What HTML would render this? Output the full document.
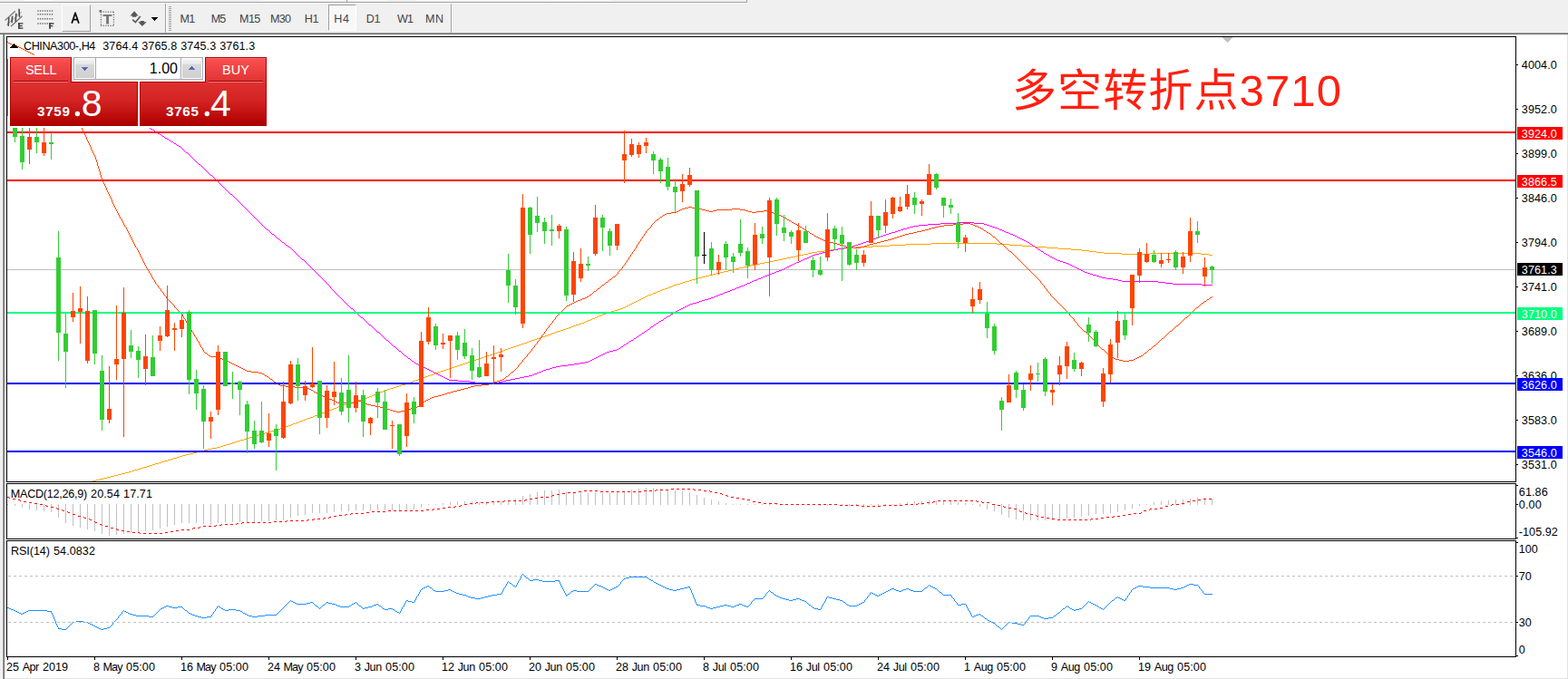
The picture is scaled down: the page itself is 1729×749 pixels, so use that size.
<!DOCTYPE html><html><head><meta charset="utf-8"><title>CHINA300 H4</title>
<style>
html,body{margin:0;padding:0;}
body{width:1729px;height:749px;overflow:hidden;background:#f0f0f0;position:relative;font-family:"Liberation Sans", sans-serif;}
.a{position:absolute;}
.t{position:absolute;white-space:pre;font-size:12.6px;line-height:14px;color:#000;margin-top:1px;}
svg{position:absolute;left:0;top:0;}
</style></head><body>
<div class="a" style="left:0;top:2px;width:824px;height:1px;background:#a0a0a0"></div>
<div class="a" style="left:0;top:3px;width:824px;height:1px;background:#fff"></div>
<div class="a" style="left:823px;top:0;width:1px;height:3px;background:#a0a0a0"></div>
<div class="a" style="left:382px;top:0;width:1px;height:2px;background:#a0a0a0"></div>
<div class="a" style="left:26px;top:0;width:32px;height:1px;background:#fff"></div>
<div class="a" style="left:285px;top:0;width:97px;height:1px;background:#f7f7f7"></div>
<div class="a" style="left:384px;top:0;width:42px;height:1px;background:#f9f9f9"></div>
<div class="a" style="left:458px;top:0;width:150px;height:1px;background:#f7f7f7"></div>
<div class="a" style="left:608px;top:0;width:33px;height:1px;background:#fff"></div>
<div class="a" style="left:641px;top:0;width:33px;height:1px;background:#f7f7f7"></div>
<div class="a" style="left:68px;top:5px;width:32px;height:30px;box-sizing:border-box;border-left:1px solid #fff;border-top:1px solid #fff;border-right:1px solid #a0a0a0;border-bottom:1px solid #a0a0a0"></div>
<div class="a" style="left:362px;top:5px;width:31px;height:29px;box-sizing:border-box;background:#f8f8f8;border-left:1px solid #a0a0a0;border-top:1px solid #a0a0a0;border-right:1px solid #fff;border-bottom:1px solid #fff"></div>
<div class="a" style="left:182px;top:4px;width:1px;height:32px;background:#a0a0a0"></div>
<div class="a" style="left:183px;top:4px;width:1px;height:32px;background:#fff"></div>
<div class="a" style="left:497px;top:4px;width:1px;height:32px;background:#a0a0a0"></div>
<div class="a" style="left:498px;top:4px;width:1px;height:32px;background:#fff"></div>
<div class="t" style="left:198.47px;top:13px;letter-spacing:-0.75px;color:#444;font-size:12.6px">M1</div>
<div class="t" style="left:232.67px;top:13px;letter-spacing:-0.84px;color:#444;font-size:12.6px">M5</div>
<div class="t" style="left:264.07px;top:13px;letter-spacing:-0.67px;color:#444;font-size:12.6px">M15</div>
<div class="t" style="left:298.07px;top:13px;letter-spacing:-0.79px;color:#444;font-size:12.6px">M30</div>
<div class="t" style="left:335.77px;top:13px;letter-spacing:-0.46px;color:#444;font-size:12.6px">H1</div>
<div class="t" style="left:368.27px;top:13px;letter-spacing:0.70px;color:#444;font-size:12.6px">H4</div>
<div class="t" style="left:403.87px;top:13px;letter-spacing:-0.46px;color:#444;font-size:12.6px">D1</div>
<div class="t" style="left:437.94px;top:13px;letter-spacing:-0.93px;color:#444;font-size:12.6px">W1</div>
<div class="t" style="left:469.07px;top:13px;letter-spacing:0.47px;color:#444;font-size:12.6px">MN</div>
<svg width="200" height="38" viewBox="0 0 200 38" style="left:0;top:0">
<g fill="none" stroke-linecap="round">
<path d="M5.8 22.2L16.5 12.5" stroke="#7c7c7c" stroke-width="1.15"/>
<path d="M12.4 28.8L24.2 18" stroke="#707070" stroke-width="1.2"/>
<path d="M7.4 27.2L23.6 13.4" stroke="#9a9a9a" stroke-width="0.9"/>
<path d="M9.8 19.8L9.2 28.2M13.6 18.4L13 24.6M17.8 15.4L17.2 23.2M21 10.2L21.4 18.2" stroke="#4c4c4c" stroke-width="1.6"/>
</g>
<g fill="#484848">
<rect x="20" y="25.2" width="1.9" height="6.6"/><rect x="20" y="25.2" width="5.4" height="1.4"/><rect x="20" y="27.9" width="4.8" height="1.3"/><rect x="20" y="30.4" width="5.4" height="1.4"/>
<rect x="54.1" y="25.2" width="1.9" height="6.6"/><rect x="54.1" y="25.2" width="5.3" height="1.5"/><rect x="54.1" y="28" width="4.4" height="1.3"/>
</g>
<g stroke="#666" stroke-width="1.5" stroke-dasharray="1.3 1.3" fill="none">
<path d="M41.3 12H58.6"/><path d="M41.3 15.8H58.6"/><path d="M41.3 20.8H58.6"/><path d="M41.3 26H53.6"/>
</g>
<path d="M79.2 25.7L83 14.2L86.9 25.7M80.6 21.7H85.5" fill="none" stroke="#0a0a0a" stroke-width="1.75" stroke-linejoin="round"/>
<!-- T icon -->
<g stroke="#606060" stroke-width="1.2" stroke-dasharray="1.1 1.53" fill="none">
<path d="M111 13.2H126"/><path d="M111 28.4H126"/><path d="M111.4 13.2V28.6"/><path d="M125.4 13.2V28.6"/>
</g>
<rect x="109.5" y="11" width="2.6" height="2.6" fill="#707070"/>
<rect x="113.5" y="16" width="10" height="1.9" fill="#787878"/><rect x="117.1" y="16" width="2.9" height="10.5" fill="#787878"/>
<!-- arrows icon -->
<path d="M148.1 12.3L152.6 17.4H150.3V18.7H145.9V17.4H143.5Z" fill="#585858"/>
<path d="M156.8 29.1L152.3 24.3H154.6V23H158.9V24.3H161.7Z" fill="#585858"/>
<path d="M146.2 21.7L149.3 24.5L154.8 17.9" fill="none" stroke="#585858" stroke-width="1.6"/>
<g shape-rendering="crispEdges" fill="#000">
<rect x="167" y="19" width="7" height="1"/><rect x="168" y="20" width="5" height="1"/><rect x="169" y="21" width="3" height="1"/><rect x="170" y="22" width="1" height="1"/>
</g>
<!-- gripper -->
<g shape-rendering="crispEdges" fill="#a0a0a0">
<rect x="186" y="7" width="3" height="1"/><rect x="186" y="9" width="3" height="1"/><rect x="186" y="11" width="3" height="1"/><rect x="186" y="13" width="3" height="1"/><rect x="186" y="15" width="3" height="1"/><rect x="186" y="17" width="3" height="1"/><rect x="186" y="19" width="3" height="1"/><rect x="186" y="21" width="3" height="1"/><rect x="186" y="23" width="3" height="1"/><rect x="186" y="25" width="3" height="1"/><rect x="186" y="27" width="3" height="1"/><rect x="186" y="29" width="3" height="1"/><rect x="186" y="31" width="3" height="1"/><rect x="186" y="33" width="3" height="1"/>
</g>
</svg>

<div class="a" style="left:0;top:36px;width:1729px;height:1px;background:#a0a0a0"></div>
<div class="a" style="left:0;top:37px;width:1729px;height:1px;background:#696969"></div>
<div class="a" style="left:3px;top:38px;width:1726px;height:711px;background:#a0a0a0"></div>
<div class="a" style="left:4px;top:37px;width:1725px;height:712px;background:#696969"></div>
<div class="a" style="left:5px;top:38px;width:1724px;height:711px;background:#e3e3e3"></div>
<div class="a" style="left:5px;top:38px;width:1723px;height:710px;background:#fff"></div>
<svg width="1729" height="749" viewBox="0 0 1729 749">
<g shape-rendering="crispEdges">
<clipPath id="c1"><rect x="8" y="41" width="1663" height="490"/></clipPath>
<clipPath id="c2"><rect x="8" y="534" width="1663" height="60"/></clipPath>
<clipPath id="c3"><rect x="8" y="597" width="1663" height="127"/></clipPath>
<rect x="8" y="297" width="1663" height="1" fill="#c0c0c0"/>
</g>
<g shape-rendering="crispEdges">
<path fill="#ffa500" d="M102 530h4v1h-4zM106 529h4v1h-4zM110 528h4v1h-4zM114 527h4v1h-4zM118 526h4v1h-4zM122 525h4v1h-4zM126 524h4v1h-4zM130 523h4v1h-4zM134 522h4v1h-4zM138 521h4v1h-4zM142 520h3v1h-3zM145 519h3v1h-3zM148 518h4v1h-4zM152 517h3v1h-3zM155 516h3v1h-3zM158 515h4v1h-4zM162 514h3v1h-3zM165 513h3v1h-3zM168 512h3v1h-3zM171 511h4v1h-4zM175 510h3v1h-3zM178 509h3v1h-3zM181 508h4v1h-4zM185 507h3v1h-3zM188 506h3v1h-3zM191 505h4v1h-4zM195 504h3v1h-3zM198 503h3v1h-3zM201 502h4v1h-4zM205 501h4v1h-4zM209 500h4v1h-4zM213 499h4v1h-4zM217 498h4v1h-4zM221 497h4v1h-4zM225 496h4v1h-4zM229 495h5v1h-5zM234 494h5v1h-5zM239 493h4v1h-4zM243 492h3v1h-3zM246 491h3v1h-3zM249 490h4v1h-4zM253 489h3v1h-3zM256 488h3v1h-3zM259 487h3v1h-3zM262 486h3v1h-3zM265 485h4v1h-4zM269 484h3v1h-3zM272 483h3v1h-3zM275 482h4v1h-4zM279 481h3v1h-3zM282 480h3v1h-3zM285 479h4v1h-4zM289 478h3v1h-3zM292 477h4v1h-4zM296 476h3v1h-3zM299 475h3v1h-3zM302 474h3v1h-3zM305 473h4v1h-4zM309 472h3v1h-3zM312 471h3v1h-3zM315 470h3v1h-3zM318 469h3v1h-3zM321 468h2v1h-2zM323 467h3v1h-3zM326 466h3v1h-3zM329 465h2v1h-2zM331 464h3v1h-3zM334 463h3v1h-3zM337 462h2v1h-2zM339 461h3v1h-3zM342 460h3v1h-3zM345 459h2v1h-2zM347 458h3v1h-3zM350 457h3v1h-3zM353 456h2v1h-2zM355 455h3v1h-3zM358 454h2v1h-2zM360 453h3v1h-3zM363 452h3v1h-3zM366 451h2v1h-2zM368 450h3v1h-3zM371 449h2v1h-2zM373 448h3v1h-3zM376 447h3v1h-3zM379 446h4v1h-4zM383 445h3v1h-3zM386 444h3v1h-3zM389 443h3v1h-3zM392 442h3v1h-3zM395 441h4v1h-4zM399 440h3v1h-3zM402 439h3v1h-3zM405 438h2v1h-2zM407 437h3v1h-3zM410 436h2v1h-2zM412 435h2v1h-2zM414 434h3v1h-3zM417 433h2v1h-2zM419 432h3v1h-3zM422 431h2v1h-2zM424 430h3v1h-3zM427 429h3v1h-3zM430 428h4v1h-4zM434 427h3v1h-3zM437 426h3v1h-3zM440 425h3v1h-3zM443 424h4v1h-4zM447 423h3v1h-3zM450 422h3v1h-3zM453 421h2v1h-2zM455 420h3v1h-3zM458 419h3v1h-3zM461 418h2v1h-2zM463 417h3v1h-3zM466 416h3v1h-3zM469 415h3v1h-3zM472 414h3v1h-3zM475 413h3v1h-3zM478 412h2v1h-2zM480 411h3v1h-3zM483 410h3v1h-3zM486 409h3v1h-3zM489 408h3v1h-3zM492 407h3v1h-3zM495 406h3v1h-3zM498 405h3v1h-3zM501 404h3v1h-3zM504 403h3v1h-3zM507 402h3v1h-3zM510 401h3v1h-3zM513 400h3v1h-3zM516 399h3v1h-3zM519 398h3v1h-3zM522 397h3v1h-3zM525 396h3v1h-3zM528 395h3v1h-3zM531 394h3v1h-3zM534 393h3v1h-3zM537 392h3v1h-3zM540 391h3v1h-3zM543 390h3v1h-3zM546 389h3v1h-3zM549 388h3v1h-3zM552 387h3v1h-3zM555 386h2v1h-2zM557 385h3v1h-3zM560 384h3v1h-3zM563 383h3v1h-3zM566 382h3v1h-3zM569 381h3v1h-3zM572 380h3v1h-3zM575 379h3v1h-3zM578 378h3v1h-3zM581 377h2v1h-2zM583 376h3v1h-3zM586 375h3v1h-3zM589 374h3v1h-3zM592 373h3v1h-3zM595 372h3v1h-3zM598 371h3v1h-3zM601 370h3v1h-3zM604 369h3v1h-3zM607 368h2v1h-2zM609 367h3v1h-3zM612 366h3v1h-3zM615 365h3v1h-3zM618 364h3v1h-3zM621 363h3v1h-3zM624 362h3v1h-3zM627 361h3v1h-3zM630 360h2v1h-2zM632 359h3v1h-3zM635 358h3v1h-3zM638 357h3v1h-3zM641 356h3v1h-3zM644 355h2v1h-2zM646 354h2v1h-2zM648 353h3v1h-3zM651 352h2v1h-2zM653 351h3v1h-3zM656 350h2v1h-2zM658 349h2v1h-2zM660 348h3v1h-3zM663 347h2v1h-2zM665 346h3v1h-3zM668 345h3v1h-3zM671 344h3v1h-3zM674 343h3v1h-3zM677 342h4v1h-4zM681 341h3v1h-3zM684 340h3v1h-3zM687 339h2v1h-2zM689 338h2v1h-2zM691 337h2v1h-2zM693 336h2v1h-2zM695 335h2v1h-2zM697 334h2v1h-2zM699 333h2v1h-2zM701 332h2v1h-2zM703 331h2v1h-2zM705 330h2v1h-2zM707 329h2v1h-2zM709 328h2v1h-2zM711 327h2v1h-2zM713 326h2v1h-2zM715 325h3v1h-3zM718 324h2v1h-2zM720 323h3v1h-3zM723 322h2v1h-2zM725 321h3v1h-3zM728 320h2v1h-2zM730 319h3v1h-3zM733 318h3v1h-3zM736 317h2v1h-2zM738 316h3v1h-3zM741 315h2v1h-2zM743 314h3v1h-3zM746 313h4v1h-4zM750 312h3v1h-3zM753 311h3v1h-3zM756 310h4v1h-4zM760 309h3v1h-3zM763 308h4v1h-4zM767 307h3v1h-3zM770 306h4v1h-4zM774 305h4v1h-4zM778 304h4v1h-4zM782 303h4v1h-4zM786 302h4v1h-4zM790 301h4v1h-4zM794 300h4v1h-4zM798 299h5v1h-5zM803 298h4v1h-4zM807 297h4v1h-4zM811 296h4v1h-4zM815 295h5v1h-5zM820 294h4v1h-4zM824 293h4v1h-4zM828 292h5v1h-5zM833 291h5v1h-5zM838 290h5v1h-5zM843 289h5v1h-5zM848 288h5v1h-5zM853 287h5v1h-5zM858 286h5v1h-5zM863 285h4v1h-4zM867 284h5v1h-5zM872 283h5v1h-5zM877 282h4v1h-4zM881 281h5v1h-5zM886 280h5v1h-5zM891 279h4v1h-4zM895 278h6v1h-6zM901 277h8v1h-8zM909 276h7v1h-7zM916 275h7v1h-7zM923 274h8v1h-8zM931 273h13v1h-13zM944 272h18v1h-18zM962 271h19v1h-19zM981 270h18v1h-18zM999 269h28v1h-28zM1027 268h72v1h-72zM1099 269h14v1h-14zM1113 270h14v1h-14zM1127 271h14v1h-14zM1141 272h13v1h-13zM1154 273h13v1h-13zM1167 274h14v1h-14zM1181 275h12v1h-12zM1193 276h8v1h-8zM1201 277h8v1h-8zM1209 278h8v1h-8zM1217 279h20v1h-20zM1237 280h31v1h-31zM1268 279h56v1h-56zM1324 280h9v1h-9zM1333 281h4v1h-4z"/>
<path fill="#ff00ff" d="M165 141h1v1h-1zM166 142h2v1h-2zM168 143h2v1h-2zM170 144h1v1h-1zM171 145h2v1h-2zM173 146h1v1h-1zM174 147h2v1h-2zM176 148h2v1h-2zM178 149h1v1h-1zM179 150h2v1h-2zM181 151h1v1h-1zM182 152h2v1h-2zM184 153h2v1h-2zM186 154h1v1h-1zM187 155h2v1h-2zM189 156h2v1h-2zM191 157h1v1h-1zM192 158h2v1h-2zM194 159h1v1h-1zM195 160h2v1h-2zM197 161h2v1h-2zM199 162h1v1h-1zM200 163h1v1h-1zM201 164h1v1h-1zM202 165h1v1h-1zM203 166h1v1h-1zM204 167h1v1h-1zM205 168h2v1h-2zM207 169h1v1h-1zM208 170h1v1h-1zM209 171h1v1h-1zM210 172h1v1h-1zM211 173h1v1h-1zM212 174h1v1h-1zM213 175h1v1h-1zM214 176h1v1h-1zM215 177h1v1h-1zM216 178h1v1h-1zM217 179h1v1h-1zM218 180h1v1h-1zM219 181h2v1h-2zM221 182h1v1h-1zM222 183h1v1h-1zM223 184h1v1h-1zM224 185h1v1h-1zM225 186h1v1h-1zM226 187h1v1h-1zM227 188h1v1h-1zM228 189h1v1h-1zM229 190h1v1h-1zM230 191h1v1h-1zM231 192h1v1h-1zM232 193h2v1h-2zM234 194h1v1h-1zM235 195h1v1h-1zM236 196h1v1h-1zM237 197h1v1h-1zM238 198h1v1h-1zM239 199h1v1h-1zM240 200h1v1h-1zM241 201h1v1h-1zM242 202h1v1h-1zM243 203h1v1h-1zM244 204h1v1h-1zM245 205h1v1h-1zM246 206h1v1h-1zM247 207h1v1h-1zM248 208h1v1h-1zM249 209h1v1h-1zM250 210h1v1h-1zM251 211h1v1h-1zM252 212h1v1h-1zM253 213h1v1h-1zM254 214h2v1h-2zM256 215h1v1h-1zM257 216h1v1h-1zM258 217h1v1h-1zM259 218h1v1h-1zM260 219h1v1h-1zM261 220h1v1h-1zM262 221h1v1h-1zM263 222h1v1h-1zM264 223h1v1h-1zM265 224h1v1h-1zM266 225h1v1h-1zM267 226h1v1h-1zM268 227h1v1h-1zM269 228h1v1h-1zM270 229h1v1h-1zM271 230h1v1h-1zM272 231h1v1h-1zM273 232h1v1h-1zM274 233h1v1h-1zM275 234h1v1h-1zM276 235h1v1h-1zM277 236h1v1h-1zM278 237h1v1h-1zM279 238h1v1h-1zM280 239h1v1h-1zM281 240h1v1h-1zM282 241h1v1h-1zM283 242h1v1h-1zM284 243h1v1h-1zM285 244h1v1h-1zM286 245h1v1h-1zM287 246h1v1h-1zM288 247h1v1h-1zM289 248h1v1h-1zM290 249h1v1h-1zM291 250h1v1h-1zM292 251h1v1h-1zM293 252h1v1h-1zM294 253h2v1h-2zM296 254h1v1h-1zM297 255h1v1h-1zM298 256h1v1h-1zM299 257h1v1h-1zM300 258h2v1h-2zM302 259h1v1h-1zM303 260h1v1h-1zM304 261h1v1h-1zM305 262h1v1h-1zM306 263h2v1h-2zM308 264h1v1h-1zM309 265h1v1h-1zM310 266h1v1h-1zM311 267h2v1h-2zM313 268h1v1h-1zM314 269h1v1h-1zM315 270h2v1h-2zM317 271h1v1h-1zM318 272h2v1h-2zM320 273h1v1h-1zM321 274h1v1h-1zM322 275h1v1h-1zM323 276h1v1h-1zM324 277h1v1h-1zM325 278h1v1h-1zM326 279h1v1h-1zM327 280h1v1h-1zM328 281h1v1h-1zM329 282h1v1h-1zM330 283h1v1h-1zM331 284h1v1h-1zM332 285h1v1h-1zM333 286h2v1h-2zM335 287h1v1h-1zM336 288h1v1h-1zM337 289h1v1h-1zM338 290h1v1h-1zM339 291h1v1h-1zM340 292h1v1h-1zM341 293h1v1h-1zM342 294h1v1h-1zM343 295h1v1h-1zM344 296h1v1h-1zM345 297h1v1h-1zM346 298h1v1h-1zM347 299h1v1h-1zM348 300h1v1h-1zM349 301h1v1h-1zM350 302h1v1h-1zM351 303h1v1h-1zM352 304h1v1h-1zM353 305h1v1h-1zM354 306h1v1h-1zM355 307h1v1h-1zM356 308h1v1h-1zM357 309h1v1h-1zM358 310h1v1h-1zM359 311h1v1h-1zM360 312h1v1h-1zM361 313h1v1h-1zM362 314h1v1h-1zM363 315h1v1h-1zM364 316h1v2h-1zM365 318h1v1h-1zM366 319h1v1h-1zM367 320h1v1h-1zM368 321h1v1h-1zM369 322h1v1h-1zM370 323h1v1h-1zM371 324h1v1h-1zM372 325h1v1h-1zM373 326h1v1h-1zM374 327h1v1h-1zM375 328h1v1h-1zM376 329h1v1h-1zM377 330h1v1h-1zM378 331h1v1h-1zM379 332h1v1h-1zM380 333h1v1h-1zM381 334h1v1h-1zM382 335h1v1h-1zM383 336h1v1h-1zM384 337h1v1h-1zM385 338h1v1h-1zM386 339h1v1h-1zM387 340h2v1h-2zM389 341h1v1h-1zM390 342h1v1h-1zM391 343h1v1h-1zM392 344h1v1h-1zM393 345h1v1h-1zM394 346h1v1h-1zM395 347h1v1h-1zM396 348h1v1h-1zM397 349h1v1h-1zM398 350h2v1h-2zM400 351h1v1h-1zM401 352h1v1h-1zM402 353h1v1h-1zM403 354h1v1h-1zM404 355h1v1h-1zM405 356h1v1h-1zM406 357h1v1h-1zM407 358h2v1h-2zM409 359h1v1h-1zM410 360h1v1h-1zM411 361h1v1h-1zM412 362h1v1h-1zM413 363h1v1h-1zM414 364h1v1h-1zM415 365h1v1h-1zM416 366h2v1h-2zM418 367h1v1h-1zM419 368h1v1h-1zM420 369h1v1h-1zM421 370h1v1h-1zM422 371h1v1h-1zM423 372h1v1h-1zM424 373h1v1h-1zM425 374h1v1h-1zM426 375h2v1h-2zM428 376h1v1h-1zM429 377h1v1h-1zM430 378h1v1h-1zM431 379h1v1h-1zM432 380h1v1h-1zM433 381h1v1h-1zM434 382h2v1h-2zM436 383h1v1h-1zM437 384h1v1h-1zM438 385h1v1h-1zM439 386h1v1h-1zM440 387h2v1h-2zM442 388h1v1h-1zM443 389h1v1h-1zM444 390h1v1h-1zM445 391h1v1h-1zM446 392h2v1h-2zM448 393h1v1h-1zM449 394h1v1h-1zM450 395h2v1h-2zM452 396h1v1h-1zM453 397h1v1h-1zM454 398h2v1h-2zM456 399h1v1h-1zM457 400h2v1h-2zM459 401h2v1h-2zM461 402h2v1h-2zM463 403h2v1h-2zM465 404h2v1h-2zM467 405h2v1h-2zM469 406h2v1h-2zM471 407h2v1h-2zM473 408h2v1h-2zM475 409h2v1h-2zM477 410h2v1h-2zM479 411h2v1h-2zM481 412h2v1h-2zM483 413h2v1h-2zM485 414h2v1h-2zM487 415h2v1h-2zM489 416h2v1h-2zM491 417h2v1h-2zM493 418h2v1h-2zM495 419h10v1h-10zM505 420h13v1h-13zM518 421h6v1h-6zM524 422h8v1h-8zM532 423h11v1h-11zM543 422h7v1h-7zM550 421h4v1h-4zM554 420h4v1h-4zM558 419h5v1h-5zM563 418h5v1h-5zM568 417h5v1h-5zM573 416h5v1h-5zM578 415h5v1h-5zM583 414h4v1h-4zM587 413h2v1h-2zM589 412h3v1h-3zM592 411h2v1h-2zM594 410h3v1h-3zM597 409h2v1h-2zM599 408h3v1h-3zM602 407h4v1h-4zM606 406h3v1h-3zM609 405h4v1h-4zM613 404h5v1h-5zM618 403h8v1h-8zM626 402h7v1h-7zM633 401h6v1h-6zM639 400h6v1h-6zM645 399h4v1h-4zM649 398h2v1h-2zM651 397h2v1h-2zM653 396h2v1h-2zM655 395h2v1h-2zM657 394h2v1h-2zM659 393h2v1h-2zM661 392h2v1h-2zM663 391h2v1h-2zM665 390h2v1h-2zM667 389h2v1h-2zM669 388h3v1h-3zM672 387h4v1h-4zM676 386h4v1h-4zM680 385h2v1h-2zM682 384h2v1h-2zM684 383h1v1h-1zM685 382h2v1h-2zM687 381h1v1h-1zM688 380h2v1h-2zM690 379h1v1h-1zM691 378h2v1h-2zM693 377h1v1h-1zM694 376h2v1h-2zM696 375h2v1h-2zM698 374h1v1h-1zM699 373h2v1h-2zM701 372h1v1h-1zM702 371h2v1h-2zM704 370h1v1h-1zM705 369h2v1h-2zM707 368h1v1h-1zM708 367h2v1h-2zM710 366h1v1h-1zM711 365h2v1h-2zM713 364h1v1h-1zM714 363h2v1h-2zM716 362h1v1h-1zM717 361h1v1h-1zM718 360h2v1h-2zM720 359h1v1h-1zM721 358h2v1h-2zM723 357h1v1h-1zM724 356h2v1h-2zM726 355h1v1h-1zM727 354h2v1h-2zM729 353h2v1h-2zM731 352h1v1h-1zM732 351h2v1h-2zM734 350h1v1h-1zM735 349h2v1h-2zM737 348h2v1h-2zM739 347h1v1h-1zM740 346h2v1h-2zM742 345h2v1h-2zM744 344h1v1h-1zM745 343h2v1h-2zM747 342h2v1h-2zM749 341h2v1h-2zM751 340h2v1h-2zM753 339h2v1h-2zM755 338h2v1h-2zM757 337h2v1h-2zM759 336h2v1h-2zM761 335h3v1h-3zM764 334h4v1h-4zM768 333h3v1h-3zM771 332h3v1h-3zM774 331h3v1h-3zM777 330h4v1h-4zM781 329h3v1h-3zM784 328h3v1h-3zM787 327h2v1h-2zM789 326h3v1h-3zM792 325h2v1h-2zM794 324h3v1h-3zM797 323h2v1h-2zM799 322h3v1h-3zM802 321h3v1h-3zM805 320h2v1h-2zM807 319h3v1h-3zM810 318h2v1h-2zM812 317h3v1h-3zM815 316h2v1h-2zM817 315h3v1h-3zM820 314h2v1h-2zM822 313h2v1h-2zM824 312h3v1h-3zM827 311h2v1h-2zM829 310h2v1h-2zM831 309h3v1h-3zM834 308h2v1h-2zM836 307h3v1h-3zM839 306h2v1h-2zM841 305h2v1h-2zM843 304h3v1h-3zM846 303h2v1h-2zM848 302h3v1h-3zM851 301h3v1h-3zM854 300h2v1h-2zM856 299h3v1h-3zM859 298h3v1h-3zM862 297h2v1h-2zM864 296h2v1h-2zM866 295h2v1h-2zM868 294h2v1h-2zM870 293h2v1h-2zM872 292h2v1h-2zM874 291h2v1h-2zM876 290h2v1h-2zM878 289h3v1h-3zM881 288h2v1h-2zM883 287h2v1h-2zM885 286h2v1h-2zM887 285h3v1h-3zM890 284h2v1h-2zM892 283h2v1h-2zM894 282h2v1h-2zM896 281h3v1h-3zM899 280h4v1h-4zM903 279h4v1h-4zM907 278h4v1h-4zM911 277h4v1h-4zM915 276h4v1h-4zM919 275h5v1h-5zM924 274h6v1h-6zM930 273h6v1h-6zM936 272h4v1h-4zM940 271h3v1h-3zM943 270h3v1h-3zM946 269h3v1h-3zM949 268h3v1h-3zM952 267h3v1h-3zM955 266h3v1h-3zM958 265h3v1h-3zM961 264h2v1h-2zM963 263h3v1h-3zM966 262h3v1h-3zM969 261h2v1h-2zM971 260h3v1h-3zM974 259h3v1h-3zM977 258h3v1h-3zM980 257h3v1h-3zM983 256h4v1h-4zM987 255h3v1h-3zM990 254h3v1h-3zM993 253h3v1h-3zM996 252h4v1h-4zM1000 251h3v1h-3zM1003 250h4v1h-4zM1007 249h6v1h-6zM1013 248h10v1h-10zM1023 247h14v1h-14zM1037 246h18v1h-18zM1055 245h19v1h-19zM1074 246h11v1h-11zM1085 247h3v1h-3zM1088 248h3v1h-3zM1091 249h3v1h-3zM1094 250h3v1h-3zM1097 251h3v1h-3zM1100 252h2v1h-2zM1102 253h3v1h-3zM1105 254h2v1h-2zM1107 255h2v1h-2zM1109 256h3v1h-3zM1112 257h2v1h-2zM1114 258h3v1h-3zM1117 259h2v1h-2zM1119 260h2v1h-2zM1121 261h2v1h-2zM1123 262h2v1h-2zM1125 263h2v1h-2zM1127 264h2v1h-2zM1129 265h2v1h-2zM1131 266h2v1h-2zM1133 267h2v1h-2zM1135 268h1v1h-1zM1136 269h2v1h-2zM1138 270h1v1h-1zM1139 271h2v1h-2zM1141 272h1v1h-1zM1142 273h2v1h-2zM1144 274h1v1h-1zM1145 275h2v1h-2zM1147 276h1v1h-1zM1148 277h2v1h-2zM1150 278h1v1h-1zM1151 279h2v1h-2zM1153 280h2v1h-2zM1155 281h2v1h-2zM1157 282h1v1h-1zM1158 283h2v1h-2zM1160 284h2v1h-2zM1162 285h2v1h-2zM1164 286h2v1h-2zM1166 287h3v1h-3zM1169 288h3v1h-3zM1172 289h3v1h-3zM1175 290h3v1h-3zM1178 291h2v1h-2zM1180 292h2v1h-2zM1182 293h2v1h-2zM1184 294h2v1h-2zM1186 295h2v1h-2zM1188 296h2v1h-2zM1190 297h2v1h-2zM1192 298h2v1h-2zM1194 299h2v1h-2zM1196 300h3v1h-3zM1199 301h3v1h-3zM1202 302h3v1h-3zM1205 303h4v1h-4zM1209 304h3v1h-3zM1212 305h3v1h-3zM1215 306h5v1h-5zM1220 307h7v1h-7zM1227 308h6v1h-6zM1233 309h4v1h-4zM1237 310h40v1h-40zM1277 311h8v1h-8zM1285 312h8v1h-8zM1293 313h32v1h-32zM1325 314h12v1h-12z"/>
<path fill="#ff4500" d="M8 46h1v1h-1zM9 47h2v1h-2zM11 48h2v1h-2zM13 49h3v1h-3zM16 50h3v1h-3zM19 51h2v1h-2zM21 52h2v1h-2zM23 53h2v1h-2zM25 54h2v1h-2zM27 55h2v1h-2zM29 56h2v1h-2zM31 57h2v1h-2zM33 58h2v1h-2zM35 59h2v1h-2zM37 60h1v1h-1zM38 61h1v1h-1zM39 62h1v1h-1zM40 63h1v1h-1zM41 64h1v1h-1zM42 65h1v1h-1zM43 66h1v2h-1zM44 68h1v1h-1zM45 69h1v1h-1zM46 70h1v1h-1zM47 71h1v1h-1zM48 72h1v1h-1zM49 73h1v1h-1zM50 74h1v1h-1zM51 75h1v1h-1zM52 76h1v1h-1zM53 77h1v1h-1zM54 78h1v2h-1zM55 80h1v1h-1zM56 81h1v1h-1zM57 82h1v1h-1zM58 83h1v1h-1zM59 84h1v1h-1zM60 85h1v1h-1zM61 86h1v2h-1zM62 88h1v2h-1zM63 90h1v2h-1zM64 92h1v1h-1zM65 93h1v2h-1zM66 95h1v2h-1zM67 97h1v2h-1zM68 99h1v1h-1zM69 100h1v2h-1zM70 102h1v2h-1zM71 104h1v2h-1zM72 106h1v1h-1zM73 107h1v2h-1zM74 109h1v2h-1zM75 111h1v2h-1zM76 113h1v1h-1zM77 114h1v2h-1zM78 116h1v2h-1zM79 118h1v2h-1zM80 120h1v2h-1zM81 122h1v2h-1zM82 124h1v2h-1zM83 126h1v2h-1zM84 128h1v2h-1zM85 130h1v2h-1zM86 132h1v2h-1zM87 134h1v2h-1zM88 136h1v2h-1zM89 138h1v2h-1zM90 140h1v3h-1zM91 143h1v2h-1zM92 145h1v2h-1zM93 147h1v2h-1zM94 149h1v2h-1zM95 151h1v3h-1zM96 154h1v2h-1zM97 156h1v2h-1zM98 158h1v2h-1zM99 160h1v2h-1zM100 162h1v3h-1zM101 165h1v2h-1zM102 167h1v2h-1zM103 169h1v2h-1zM104 171h1v2h-1zM105 173h1v3h-1zM106 176h1v3h-1zM107 179h1v4h-1zM108 183h1v3h-1zM109 186h1v3h-1zM110 189h1v4h-1zM111 193h1v3h-1zM112 196h1v3h-1zM113 199h1v2h-1zM114 201h1v2h-1zM115 203h1v2h-1zM116 205h1v2h-1zM117 207h1v3h-1zM118 210h1v2h-1zM119 212h1v2h-1zM120 214h1v2h-1zM121 216h1v2h-1zM122 218h1v2h-1zM123 220h1v3h-1zM124 223h1v2h-1zM125 225h1v2h-1zM126 227h1v2h-1zM127 229h1v2h-1zM128 231h1v2h-1zM129 233h1v2h-1zM130 235h1v2h-1zM131 237h1v2h-1zM132 239h1v2h-1zM133 241h1v1h-1zM134 242h1v2h-1zM135 244h1v2h-1zM136 246h1v2h-1zM137 248h1v2h-1zM138 250h1v1h-1zM139 251h1v2h-1zM140 253h1v2h-1zM141 255h1v2h-1zM142 257h1v2h-1zM143 259h1v2h-1zM144 261h1v2h-1zM145 263h1v2h-1zM146 265h1v2h-1zM147 267h1v2h-1zM148 269h1v2h-1zM149 271h1v2h-1zM150 273h1v1h-1zM151 274h1v2h-1zM152 276h1v2h-1zM153 278h1v2h-1zM154 280h1v2h-1zM155 282h1v2h-1zM156 284h1v2h-1zM157 286h1v2h-1zM158 288h1v2h-1zM159 290h1v2h-1zM160 292h1v2h-1zM161 294h1v2h-1zM162 296h1v1h-1zM163 297h1v2h-1zM164 299h1v2h-1zM165 301h1v1h-1zM166 302h1v2h-1zM167 304h1v2h-1zM168 306h1v2h-1zM169 308h1v1h-1zM170 309h1v2h-1zM171 311h1v2h-1zM172 313h1v1h-1zM173 314h1v1h-1zM174 315h1v2h-1zM175 317h1v1h-1zM176 318h1v1h-1zM177 319h1v2h-1zM178 321h1v1h-1zM179 322h1v1h-1zM180 323h1v2h-1zM181 325h1v1h-1zM182 326h1v1h-1zM183 327h1v2h-1zM184 329h1v1h-1zM185 330h1v1h-1zM186 331h1v1h-1zM187 332h1v1h-1zM188 333h1v1h-1zM189 334h1v1h-1zM190 335h1v1h-1zM191 336h1v1h-1zM192 337h1v2h-1zM193 339h1v1h-1zM194 340h1v1h-1zM195 341h1v1h-1zM196 342h1v1h-1zM197 343h1v1h-1zM198 344h1v1h-1zM199 345h1v1h-1zM200 346h1v1h-1zM201 347h1v2h-1zM202 349h1v2h-1zM203 351h1v1h-1zM204 352h1v2h-1zM205 354h1v2h-1zM206 356h1v1h-1zM207 357h1v2h-1zM208 359h1v2h-1zM209 361h1v1h-1zM210 362h1v2h-1zM211 364h1v2h-1zM212 366h1v1h-1zM213 367h1v2h-1zM214 369h1v2h-1zM215 371h1v1h-1zM216 372h1v2h-1zM217 374h1v2h-1zM218 376h1v1h-1zM219 377h1v2h-1zM220 379h1v2h-1zM221 381h1v2h-1zM222 383h1v1h-1zM223 384h1v2h-1zM224 386h1v2h-1zM225 388h1v1h-1zM226 389h2v1h-2zM228 390h1v1h-1zM229 391h1v1h-1zM230 392h2v1h-2zM232 393h8v1h-8zM240 394h2v1h-2zM242 395h3v1h-3zM245 396h3v1h-3zM248 397h2v1h-2zM250 398h2v1h-2zM252 399h2v1h-2zM254 400h2v1h-2zM256 401h2v1h-2zM258 402h2v1h-2zM260 403h2v1h-2zM262 404h2v1h-2zM264 405h2v1h-2zM266 406h2v1h-2zM268 407h2v1h-2zM270 408h2v1h-2zM272 409h5v1h-5zM277 410h8v1h-8zM285 411h4v1h-4zM289 412h2v1h-2zM291 413h1v1h-1zM292 414h2v1h-2zM294 415h2v1h-2zM296 416h1v1h-1zM297 417h1v1h-1zM298 418h2v1h-2zM300 419h1v1h-1zM301 420h1v1h-1zM302 421h2v1h-2zM304 422h1v1h-1zM305 423h2v1h-2zM307 424h2v1h-2zM309 425h6v1h-6zM315 426h10v1h-10zM325 427h10v1h-10zM335 428h6v1h-6zM341 429h2v1h-2zM343 430h2v1h-2zM345 431h1v1h-1zM346 432h2v1h-2zM348 433h2v1h-2zM350 434h2v1h-2zM352 435h2v1h-2zM354 436h2v1h-2zM356 437h3v1h-3zM359 438h2v1h-2zM361 439h2v1h-2zM363 440h3v1h-3zM366 441h2v1h-2zM368 442h2v1h-2zM370 443h2v1h-2zM372 444h19v1h-19zM391 443h4v1h-4zM395 442h4v1h-4zM399 443h2v1h-2zM401 444h2v1h-2zM403 445h2v1h-2zM405 446h4v1h-4zM409 447h5v1h-5zM414 448h5v1h-5zM419 449h4v1h-4zM423 450h4v1h-4zM427 451h3v1h-3zM430 452h3v1h-3zM433 453h4v1h-4zM437 454h5v1h-5zM442 453h6v1h-6zM448 452h2v1h-2zM450 451h3v1h-3zM453 450h3v1h-3zM456 449h4v1h-4zM460 448h2v1h-2zM462 447h1v1h-1zM463 446h1v1h-1zM464 445h2v1h-2zM466 444h1v1h-1zM467 443h1v1h-1zM468 442h2v1h-2zM470 441h2v1h-2zM472 440h2v1h-2zM474 439h2v1h-2zM476 438h3v1h-3zM479 437h4v1h-4zM483 436h4v1h-4zM487 435h3v1h-3zM490 434h3v1h-3zM493 433h4v1h-4zM497 432h3v1h-3zM500 431h4v1h-4zM504 430h4v1h-4zM508 429h4v1h-4zM512 428h4v1h-4zM516 427h3v1h-3zM519 426h4v1h-4zM523 425h8v1h-8zM531 424h8v1h-8zM539 423h3v1h-3zM542 422h3v1h-3zM545 421h3v1h-3zM548 420h3v1h-3zM551 419h3v1h-3zM554 418h2v1h-2zM556 417h1v1h-1zM557 416h1v1h-1zM558 415h2v1h-2zM560 414h1v1h-1zM561 413h1v1h-1zM562 412h1v1h-1zM563 411h1v1h-1zM564 410h2v1h-2zM566 409h1v1h-1zM567 408h1v1h-1zM568 407h1v1h-1zM569 406h1v1h-1zM570 405h1v1h-1zM571 403h1v2h-1zM572 402h1v1h-1zM573 401h1v1h-1zM574 400h1v1h-1zM575 399h1v1h-1zM576 397h1v2h-1zM577 396h1v1h-1zM578 395h1v1h-1zM579 394h1v1h-1zM580 393h1v1h-1zM581 391h1v2h-1zM582 390h1v1h-1zM583 389h1v1h-1zM584 388h1v1h-1zM585 387h1v1h-1zM586 385h1v2h-1zM587 384h1v1h-1zM588 383h1v1h-1zM589 381h1v2h-1zM590 380h1v1h-1zM591 379h1v1h-1zM592 377h1v2h-1zM593 376h1v1h-1zM594 375h1v1h-1zM595 373h1v2h-1zM596 372h1v1h-1zM597 370h1v2h-1zM598 369h1v1h-1zM599 368h1v1h-1zM600 366h1v2h-1zM601 365h1v1h-1zM602 363h1v2h-1zM603 362h1v1h-1zM604 361h1v1h-1zM605 359h1v2h-1zM606 358h1v1h-1zM607 357h1v1h-1zM608 356h1v1h-1zM609 354h1v2h-1zM610 353h1v1h-1zM611 352h1v1h-1zM612 350h1v2h-1zM613 349h1v1h-1zM614 348h1v1h-1zM615 347h1v1h-1zM616 346h1v1h-1zM617 345h1v1h-1zM618 344h1v1h-1zM619 343h1v1h-1zM620 342h1v1h-1zM621 341h1v1h-1zM622 340h1v1h-1zM623 339h1v1h-1zM624 338h1v1h-1zM625 337h2v1h-2zM627 336h2v1h-2zM629 335h2v1h-2zM631 334h2v1h-2zM633 333h2v1h-2zM635 332h2v1h-2zM637 331h3v1h-3zM640 330h2v1h-2zM642 329h3v1h-3zM645 328h2v1h-2zM647 327h2v1h-2zM649 326h1v1h-1zM650 325h2v1h-2zM652 324h1v1h-1zM653 323h1v1h-1zM654 322h1v1h-1zM655 321h2v1h-2zM657 320h1v1h-1zM658 319h1v1h-1zM659 318h2v1h-2zM661 317h1v1h-1zM662 316h1v1h-1zM663 315h1v1h-1zM664 314h2v1h-2zM666 313h1v1h-1zM667 312h1v1h-1zM668 311h2v1h-2zM670 310h1v1h-1zM671 309h1v1h-1zM672 308h2v1h-2zM674 307h1v1h-1zM675 306h1v1h-1zM676 305h2v1h-2zM678 304h1v1h-1zM679 303h1v1h-1zM680 302h1v1h-1zM681 300h1v2h-1zM682 299h1v1h-1zM683 298h1v1h-1zM684 297h1v1h-1zM685 296h1v1h-1zM686 294h1v2h-1zM687 293h1v1h-1zM688 292h1v1h-1zM689 290h1v2h-1zM690 289h1v1h-1zM691 287h1v2h-1zM692 286h1v1h-1zM693 284h1v2h-1zM694 283h1v1h-1zM695 281h1v2h-1zM696 280h1v1h-1zM697 278h1v2h-1zM698 277h1v1h-1zM699 275h1v2h-1zM700 274h1v1h-1zM701 272h1v2h-1zM702 270h1v2h-1zM703 269h1v1h-1zM704 267h1v2h-1zM705 266h1v1h-1zM706 264h1v2h-1zM707 263h1v1h-1zM708 261h1v2h-1zM709 260h1v1h-1zM710 258h1v2h-1zM711 257h1v1h-1zM712 255h1v2h-1zM713 254h1v1h-1zM714 253h1v1h-1zM715 252h1v1h-1zM716 251h1v1h-1zM717 250h1v1h-1zM718 248h1v2h-1zM719 247h1v1h-1zM720 246h1v1h-1zM721 245h1v1h-1zM722 244h1v1h-1zM723 243h1v1h-1zM724 242h2v1h-2zM726 241h1v1h-1zM727 240h1v1h-1zM728 239h2v1h-2zM730 238h1v1h-1zM731 237h2v1h-2zM733 236h2v1h-2zM735 235h5v1h-5zM740 234h6v1h-6zM746 233h2v1h-2zM748 232h2v1h-2zM750 231h2v1h-2zM752 230h3v1h-3zM755 229h4v1h-4zM759 228h4v1h-4zM763 229h6v1h-6zM769 230h5v1h-5zM774 231h4v1h-4zM778 232h4v1h-4zM782 233h4v1h-4zM786 232h4v1h-4zM790 231h17v1h-17zM807 230h9v1h-9zM816 231h6v1h-6zM822 232h3v1h-3zM825 233h4v1h-4zM829 234h5v1h-5zM834 233h8v1h-8zM842 232h6v1h-6zM848 233h3v1h-3zM851 234h2v1h-2zM853 235h3v1h-3zM856 236h3v1h-3zM859 237h2v1h-2zM861 238h2v1h-2zM863 239h2v1h-2zM865 240h2v1h-2zM867 241h1v1h-1zM868 242h2v1h-2zM870 243h2v1h-2zM872 244h1v1h-1zM873 245h2v1h-2zM875 246h2v1h-2zM877 247h2v1h-2zM879 248h1v1h-1zM880 249h2v1h-2zM882 250h2v1h-2zM884 251h1v1h-1zM885 252h2v1h-2zM887 253h1v1h-1zM888 254h2v1h-2zM890 255h2v1h-2zM892 256h1v1h-1zM893 257h2v1h-2zM895 258h2v1h-2zM897 259h1v1h-1zM898 260h2v1h-2zM900 261h2v1h-2zM902 262h2v1h-2zM904 263h2v1h-2zM906 264h2v1h-2zM908 265h3v1h-3zM911 266h4v1h-4zM915 267h4v1h-4zM919 268h4v1h-4zM923 269h3v1h-3zM926 270h4v1h-4zM930 271h3v1h-3zM933 272h8v1h-8zM941 273h8v1h-8zM949 272h4v1h-4zM953 271h3v1h-3zM956 270h3v1h-3zM959 269h4v1h-4zM963 268h4v1h-4zM967 267h4v1h-4zM971 266h4v1h-4zM975 265h4v1h-4zM979 264h4v1h-4zM983 263h3v1h-3zM986 262h3v1h-3zM989 261h3v1h-3zM992 260h3v1h-3zM995 259h3v1h-3zM998 258h4v1h-4zM1002 257h5v1h-5zM1007 256h4v1h-4zM1011 255h5v1h-5zM1016 254h4v1h-4zM1020 253h4v1h-4zM1024 252h3v1h-3zM1027 251h4v1h-4zM1031 250h4v1h-4zM1035 249h6v1h-6zM1041 248h10v1h-10zM1051 247h11v1h-11zM1062 246h8v1h-8zM1070 247h3v1h-3zM1073 248h2v1h-2zM1075 249h3v1h-3zM1078 250h2v1h-2zM1080 251h2v1h-2zM1082 252h2v1h-2zM1084 253h1v1h-1zM1085 254h2v1h-2zM1087 255h1v1h-1zM1088 256h2v1h-2zM1090 257h2v1h-2zM1092 258h1v1h-1zM1093 259h1v1h-1zM1094 260h1v1h-1zM1095 261h2v1h-2zM1097 262h1v1h-1zM1098 263h1v1h-1zM1099 264h1v1h-1zM1100 265h1v1h-1zM1101 266h1v1h-1zM1102 267h1v1h-1zM1103 268h2v1h-2zM1105 269h1v1h-1zM1106 270h1v1h-1zM1107 271h1v1h-1zM1108 272h1v1h-1zM1109 273h1v1h-1zM1110 274h1v1h-1zM1111 275h1v1h-1zM1112 276h1v1h-1zM1113 277h2v1h-2zM1115 278h1v1h-1zM1116 279h1v1h-1zM1117 280h1v1h-1zM1118 281h1v1h-1zM1119 282h1v1h-1zM1120 283h1v1h-1zM1121 284h1v1h-1zM1122 285h1v1h-1zM1123 286h1v1h-1zM1124 287h1v1h-1zM1125 288h1v1h-1zM1126 289h1v1h-1zM1127 290h1v1h-1zM1128 291h1v1h-1zM1129 292h1v1h-1zM1130 293h1v1h-1zM1131 294h1v1h-1zM1132 295h1v1h-1zM1133 296h1v1h-1zM1134 297h1v1h-1zM1135 298h1v1h-1zM1136 299h1v1h-1zM1137 300h1v1h-1zM1138 301h1v1h-1zM1139 302h1v1h-1zM1140 303h1v1h-1zM1141 304h1v1h-1zM1142 305h1v1h-1zM1143 306h1v1h-1zM1144 307h1v1h-1zM1145 308h1v1h-1zM1146 309h1v1h-1zM1147 310h1v2h-1zM1148 312h1v1h-1zM1149 313h1v1h-1zM1150 314h1v1h-1zM1151 315h1v2h-1zM1152 317h1v1h-1zM1153 318h1v1h-1zM1154 319h1v2h-1zM1155 321h1v1h-1zM1156 322h1v1h-1zM1157 323h1v1h-1zM1158 324h1v2h-1zM1159 326h1v1h-1zM1160 327h1v1h-1zM1161 328h1v1h-1zM1162 329h1v1h-1zM1163 330h1v1h-1zM1164 331h1v1h-1zM1165 332h1v1h-1zM1166 333h1v1h-1zM1167 334h1v1h-1zM1168 335h1v1h-1zM1169 336h1v1h-1zM1170 337h1v1h-1zM1171 338h1v1h-1zM1172 339h1v1h-1zM1173 340h1v1h-1zM1174 341h1v1h-1zM1175 342h1v1h-1zM1176 343h1v1h-1zM1177 344h1v1h-1zM1178 345h1v1h-1zM1179 346h1v2h-1zM1180 348h1v1h-1zM1181 349h1v1h-1zM1182 350h1v1h-1zM1183 351h1v1h-1zM1184 352h1v2h-1zM1185 354h1v1h-1zM1186 355h1v1h-1zM1187 356h1v1h-1zM1188 357h1v2h-1zM1189 359h1v1h-1zM1190 360h1v1h-1zM1191 361h1v1h-1zM1192 362h1v1h-1zM1193 363h1v1h-1zM1194 364h1v1h-1zM1195 365h2v1h-2zM1197 366h1v1h-1zM1198 367h1v1h-1zM1199 368h1v1h-1zM1200 369h1v1h-1zM1201 370h1v1h-1zM1202 371h1v1h-1zM1203 372h1v1h-1zM1204 373h1v1h-1zM1205 374h1v1h-1zM1206 375h1v2h-1zM1207 377h1v1h-1zM1208 378h1v1h-1zM1209 379h1v1h-1zM1210 380h1v1h-1zM1211 381h1v1h-1zM1212 382h1v1h-1zM1213 383h1v1h-1zM1214 384h1v1h-1zM1215 385h2v1h-2zM1217 386h1v1h-1zM1218 387h1v1h-1zM1219 388h1v1h-1zM1220 389h1v1h-1zM1221 390h1v1h-1zM1222 391h2v1h-2zM1224 392h1v1h-1zM1225 393h1v1h-1zM1226 394h2v1h-2zM1228 395h2v1h-2zM1230 396h4v1h-4zM1234 397h4v1h-4zM1238 398h7v1h-7zM1245 397h5v1h-5zM1250 396h2v1h-2zM1252 395h2v1h-2zM1254 394h2v1h-2zM1256 393h2v1h-2zM1258 392h2v1h-2zM1260 391h1v1h-1zM1261 390h1v1h-1zM1262 389h2v1h-2zM1264 388h1v1h-1zM1265 387h1v1h-1zM1266 386h1v1h-1zM1267 385h2v1h-2zM1269 384h1v1h-1zM1270 383h1v1h-1zM1271 382h1v1h-1zM1272 381h2v1h-2zM1274 380h1v1h-1zM1275 379h1v1h-1zM1276 378h1v1h-1zM1277 377h1v1h-1zM1278 376h1v1h-1zM1279 375h1v1h-1zM1280 374h1v1h-1zM1281 373h2v1h-2zM1283 372h1v1h-1zM1284 371h1v1h-1zM1285 370h1v1h-1zM1286 369h1v1h-1zM1287 368h1v1h-1zM1288 367h1v1h-1zM1289 366h1v1h-1zM1290 365h2v1h-2zM1292 364h1v1h-1zM1293 363h1v1h-1zM1294 362h1v1h-1zM1295 361h1v1h-1zM1296 360h1v1h-1zM1297 359h2v1h-2zM1299 358h1v1h-1zM1300 357h1v1h-1zM1301 356h1v1h-1zM1302 355h1v1h-1zM1303 354h1v1h-1zM1304 353h1v1h-1zM1305 352h1v1h-1zM1306 351h1v1h-1zM1307 350h2v1h-2zM1309 349h1v1h-1zM1310 348h1v1h-1zM1311 347h1v1h-1zM1312 346h1v1h-1zM1313 345h1v1h-1zM1314 344h1v1h-1zM1315 343h1v1h-1zM1316 342h1v1h-1zM1317 341h1v1h-1zM1318 340h1v1h-1zM1319 339h2v1h-2zM1321 338h1v1h-1zM1322 337h1v1h-1zM1323 336h1v1h-1zM1324 335h1v1h-1zM1325 334h2v1h-2zM1327 333h1v1h-1zM1328 332h2v1h-2zM1330 331h1v1h-1zM1331 330h2v1h-2zM1333 329h1v1h-1zM1334 328h2v1h-2zM1336 327h1v1h-1z"/>
</g>
<g shape-rendering="crispEdges">
<rect x="8" y="145" width="1663" height="2" fill="#ff0000"/>
<rect x="8" y="198" width="1663" height="2" fill="#ff0000"/>
<rect x="8" y="344" width="1663" height="2" fill="#00ff7f"/>
<rect x="8" y="422" width="1663" height="2" fill="#0000ff"/>
<rect x="8" y="497" width="1663" height="2" fill="#0000ff"/>
</g>
<g shape-rendering="crispEdges" clip-path="url(#c1)">
<rect x="8" y="65" width="1" height="63" fill="#32cd32"/>
<rect x="16" y="135" width="1" height="22" fill="#32cd32"/>
<rect x="14" y="141" width="5" height="10" fill="#32cd32"/>
<rect x="24" y="135" width="1" height="52" fill="#32cd32"/>
<rect x="22" y="150" width="5" height="29" fill="#32cd32"/>
<rect x="32" y="135" width="1" height="46" fill="#ff4500"/>
<rect x="30" y="151" width="5" height="14" fill="#ff4500"/>
<rect x="40" y="135" width="1" height="34" fill="#32cd32"/>
<rect x="38" y="151" width="5" height="6" fill="#32cd32"/>
<rect x="48" y="136" width="1" height="36" fill="#ff4500"/>
<rect x="46" y="157" width="5" height="12" fill="#ff4500"/>
<rect x="56" y="146" width="1" height="30" fill="#32cd32"/>
<rect x="54" y="157" width="5" height="2" fill="#32cd32"/>
<rect x="64" y="255" width="1" height="143" fill="#32cd32"/>
<rect x="62" y="284" width="5" height="83" fill="#32cd32"/>
<rect x="72" y="346" width="1" height="82" fill="#32cd32"/>
<rect x="70" y="368" width="5" height="20" fill="#32cd32"/>
<rect x="80" y="323" width="1" height="32" fill="#ff4500"/>
<rect x="78" y="343" width="5" height="7" fill="#ff4500"/>
<rect x="88" y="316" width="1" height="63" fill="#ff4500"/>
<rect x="86" y="340" width="5" height="4" fill="#ff4500"/>
<rect x="96" y="327" width="1" height="74" fill="#ff4500"/>
<rect x="94" y="343" width="5" height="55" fill="#ff4500"/>
<rect x="104" y="342" width="1" height="60" fill="#32cd32"/>
<rect x="102" y="342" width="5" height="48" fill="#32cd32"/>
<rect x="112" y="392" width="1" height="83" fill="#32cd32"/>
<rect x="110" y="409" width="5" height="54" fill="#32cd32"/>
<rect x="120" y="404" width="1" height="63" fill="#ff4500"/>
<rect x="118" y="451" width="5" height="12" fill="#ff4500"/>
<rect x="128" y="337" width="1" height="82" fill="#ff4500"/>
<rect x="126" y="396" width="5" height="6" fill="#ff4500"/>
<rect x="136" y="317" width="1" height="165" fill="#ff4500"/>
<rect x="134" y="345" width="5" height="51" fill="#ff4500"/>
<rect x="144" y="364" width="1" height="31" fill="#32cd32"/>
<rect x="142" y="381" width="5" height="7" fill="#32cd32"/>
<rect x="152" y="382" width="1" height="35" fill="#32cd32"/>
<rect x="150" y="387" width="5" height="10" fill="#32cd32"/>
<rect x="160" y="369" width="1" height="56" fill="#ff4500"/>
<rect x="158" y="393" width="5" height="14" fill="#ff4500"/>
<rect x="168" y="370" width="1" height="45" fill="#32cd32"/>
<rect x="166" y="394" width="5" height="21" fill="#32cd32"/>
<rect x="176" y="360" width="1" height="27" fill="#ff4500"/>
<rect x="174" y="370" width="5" height="6" fill="#ff4500"/>
<rect x="184" y="315" width="1" height="57" fill="#ff4500"/>
<rect x="182" y="342" width="5" height="29" fill="#ff4500"/>
<rect x="192" y="356" width="1" height="31" fill="#ff4500"/>
<rect x="190" y="362" width="5" height="2" fill="#ff4500"/>
<rect x="200" y="346" width="1" height="26" fill="#ff4500"/>
<rect x="198" y="353" width="5" height="10" fill="#ff4500"/>
<rect x="208" y="342" width="1" height="93" fill="#32cd32"/>
<rect x="206" y="344" width="5" height="75" fill="#32cd32"/>
<rect x="216" y="408" width="1" height="44" fill="#32cd32"/>
<rect x="214" y="418" width="5" height="16" fill="#32cd32"/>
<rect x="224" y="425" width="1" height="70" fill="#32cd32"/>
<rect x="222" y="429" width="5" height="36" fill="#32cd32"/>
<rect x="232" y="454" width="1" height="30" fill="#ff4500"/>
<rect x="230" y="460" width="5" height="5" fill="#ff4500"/>
<rect x="240" y="381" width="1" height="77" fill="#ff4500"/>
<rect x="238" y="388" width="5" height="64" fill="#ff4500"/>
<rect x="248" y="388" width="1" height="38" fill="#32cd32"/>
<rect x="246" y="388" width="5" height="38" fill="#32cd32"/>
<rect x="256" y="410" width="1" height="30" fill="#32cd32"/>
<rect x="254" y="422" width="5" height="2" fill="#32cd32"/>
<rect x="264" y="420" width="1" height="38" fill="#32cd32"/>
<rect x="262" y="421" width="5" height="9" fill="#32cd32"/>
<rect x="272" y="442" width="1" height="58" fill="#32cd32"/>
<rect x="270" y="446" width="5" height="30" fill="#32cd32"/>
<rect x="280" y="464" width="1" height="31" fill="#32cd32"/>
<rect x="278" y="475" width="5" height="15" fill="#32cd32"/>
<rect x="288" y="443" width="1" height="46" fill="#32cd32"/>
<rect x="286" y="475" width="5" height="13" fill="#32cd32"/>
<rect x="296" y="456" width="1" height="37" fill="#ff4500"/>
<rect x="294" y="478" width="5" height="8" fill="#ff4500"/>
<rect x="304" y="468" width="1" height="51" fill="#32cd32"/>
<rect x="302" y="473" width="5" height="8" fill="#32cd32"/>
<rect x="312" y="421" width="1" height="63" fill="#ff4500"/>
<rect x="310" y="443" width="5" height="40" fill="#ff4500"/>
<rect x="320" y="398" width="1" height="48" fill="#ff4500"/>
<rect x="318" y="402" width="5" height="43" fill="#ff4500"/>
<rect x="328" y="395" width="1" height="47" fill="#32cd32"/>
<rect x="326" y="402" width="5" height="24" fill="#32cd32"/>
<rect x="336" y="420" width="1" height="22" fill="#ff4500"/>
<rect x="334" y="426" width="5" height="10" fill="#ff4500"/>
<rect x="344" y="383" width="1" height="45" fill="#ff4500"/>
<rect x="342" y="423" width="5" height="4" fill="#ff4500"/>
<rect x="352" y="420" width="1" height="59" fill="#32cd32"/>
<rect x="350" y="420" width="5" height="41" fill="#32cd32"/>
<rect x="360" y="425" width="1" height="47" fill="#ff4500"/>
<rect x="358" y="431" width="5" height="30" fill="#ff4500"/>
<rect x="368" y="399" width="1" height="48" fill="#ff4500"/>
<rect x="366" y="432" width="5" height="6" fill="#ff4500"/>
<rect x="376" y="417" width="1" height="41" fill="#32cd32"/>
<rect x="374" y="433" width="5" height="21" fill="#32cd32"/>
<rect x="384" y="392" width="1" height="74" fill="#32cd32"/>
<rect x="382" y="430" width="5" height="20" fill="#32cd32"/>
<rect x="392" y="421" width="1" height="34" fill="#ff4500"/>
<rect x="390" y="436" width="5" height="14" fill="#ff4500"/>
<rect x="400" y="430" width="1" height="52" fill="#32cd32"/>
<rect x="398" y="436" width="5" height="29" fill="#32cd32"/>
<rect x="408" y="460" width="1" height="20" fill="#ff4500"/>
<rect x="406" y="461" width="5" height="6" fill="#ff4500"/>
<rect x="416" y="428" width="1" height="33" fill="#32cd32"/>
<rect x="414" y="432" width="5" height="12" fill="#32cd32"/>
<rect x="424" y="430" width="1" height="44" fill="#32cd32"/>
<rect x="422" y="443" width="5" height="31" fill="#32cd32"/>
<rect x="432" y="464" width="1" height="31" fill="#ff4500"/>
<rect x="430" y="469" width="5" height="1" fill="#ff4500"/>
<rect x="440" y="468" width="1" height="35" fill="#32cd32"/>
<rect x="438" y="468" width="5" height="33" fill="#32cd32"/>
<rect x="448" y="434" width="1" height="59" fill="#ff4500"/>
<rect x="446" y="444" width="5" height="37" fill="#ff4500"/>
<rect x="456" y="438" width="1" height="29" fill="#32cd32"/>
<rect x="454" y="443" width="5" height="14" fill="#32cd32"/>
<rect x="464" y="366" width="1" height="83" fill="#ff4500"/>
<rect x="462" y="376" width="5" height="73" fill="#ff4500"/>
<rect x="472" y="339" width="1" height="41" fill="#ff4500"/>
<rect x="470" y="350" width="5" height="27" fill="#ff4500"/>
<rect x="480" y="357" width="1" height="29" fill="#32cd32"/>
<rect x="478" y="360" width="5" height="21" fill="#32cd32"/>
<rect x="488" y="368" width="1" height="17" fill="#ff4500"/>
<rect x="486" y="378" width="5" height="2" fill="#ff4500"/>
<rect x="496" y="370" width="1" height="47" fill="#ff4500"/>
<rect x="494" y="370" width="5" height="6" fill="#ff4500"/>
<rect x="504" y="366" width="1" height="31" fill="#32cd32"/>
<rect x="502" y="370" width="5" height="16" fill="#32cd32"/>
<rect x="512" y="363" width="1" height="33" fill="#32cd32"/>
<rect x="510" y="378" width="5" height="15" fill="#32cd32"/>
<rect x="520" y="384" width="1" height="35" fill="#32cd32"/>
<rect x="518" y="392" width="5" height="17" fill="#32cd32"/>
<rect x="528" y="375" width="1" height="42" fill="#32cd32"/>
<rect x="526" y="405" width="5" height="11" fill="#32cd32"/>
<rect x="536" y="388" width="1" height="27" fill="#ff4500"/>
<rect x="534" y="401" width="5" height="14" fill="#ff4500"/>
<rect x="544" y="381" width="1" height="43" fill="#ff4500"/>
<rect x="542" y="394" width="5" height="2" fill="#ff4500"/>
<rect x="552" y="384" width="1" height="26" fill="#ff4500"/>
<rect x="550" y="391" width="5" height="3" fill="#ff4500"/>
<rect x="560" y="280" width="1" height="54" fill="#32cd32"/>
<rect x="558" y="298" width="5" height="17" fill="#32cd32"/>
<rect x="568" y="308" width="1" height="39" fill="#32cd32"/>
<rect x="566" y="315" width="5" height="24" fill="#32cd32"/>
<rect x="576" y="214" width="1" height="148" fill="#ff4500"/>
<rect x="574" y="229" width="5" height="128" fill="#ff4500"/>
<rect x="584" y="228" width="1" height="52" fill="#32cd32"/>
<rect x="582" y="229" width="5" height="30" fill="#32cd32"/>
<rect x="592" y="217" width="1" height="39" fill="#32cd32"/>
<rect x="590" y="238" width="5" height="8" fill="#32cd32"/>
<rect x="600" y="240" width="1" height="29" fill="#32cd32"/>
<rect x="598" y="245" width="5" height="10" fill="#32cd32"/>
<rect x="608" y="237" width="1" height="34" fill="#32cd32"/>
<rect x="606" y="253" width="5" height="2" fill="#32cd32"/>
<rect x="616" y="247" width="1" height="16" fill="#ff4500"/>
<rect x="614" y="249" width="5" height="6" fill="#ff4500"/>
<rect x="624" y="250" width="1" height="82" fill="#32cd32"/>
<rect x="622" y="253" width="5" height="73" fill="#32cd32"/>
<rect x="632" y="278" width="1" height="55" fill="#ff4500"/>
<rect x="630" y="288" width="5" height="37" fill="#ff4500"/>
<rect x="640" y="274" width="1" height="37" fill="#ff4500"/>
<rect x="638" y="291" width="5" height="16" fill="#ff4500"/>
<rect x="648" y="283" width="1" height="16" fill="#32cd32"/>
<rect x="646" y="291" width="5" height="2" fill="#32cd32"/>
<rect x="656" y="226" width="1" height="56" fill="#ff4500"/>
<rect x="654" y="240" width="5" height="40" fill="#ff4500"/>
<rect x="664" y="237" width="1" height="40" fill="#32cd32"/>
<rect x="662" y="240" width="5" height="11" fill="#32cd32"/>
<rect x="672" y="252" width="1" height="30" fill="#32cd32"/>
<rect x="670" y="255" width="5" height="16" fill="#32cd32"/>
<rect x="680" y="247" width="1" height="29" fill="#ff4500"/>
<rect x="678" y="247" width="5" height="24" fill="#ff4500"/>
<rect x="688" y="144" width="1" height="58" fill="#ff4500"/>
<rect x="686" y="170" width="5" height="7" fill="#ff4500"/>
<rect x="696" y="153" width="1" height="20" fill="#ff4500"/>
<rect x="694" y="159" width="5" height="12" fill="#ff4500"/>
<rect x="704" y="157" width="1" height="17" fill="#ff4500"/>
<rect x="702" y="160" width="5" height="10" fill="#ff4500"/>
<rect x="712" y="152" width="1" height="17" fill="#ff4500"/>
<rect x="710" y="157" width="5" height="4" fill="#ff4500"/>
<rect x="720" y="167" width="1" height="25" fill="#32cd32"/>
<rect x="718" y="170" width="5" height="7" fill="#32cd32"/>
<rect x="728" y="174" width="1" height="28" fill="#32cd32"/>
<rect x="726" y="176" width="5" height="13" fill="#32cd32"/>
<rect x="736" y="174" width="1" height="36" fill="#32cd32"/>
<rect x="734" y="184" width="5" height="22" fill="#32cd32"/>
<rect x="744" y="197" width="1" height="37" fill="#32cd32"/>
<rect x="742" y="206" width="5" height="6" fill="#32cd32"/>
<rect x="752" y="192" width="1" height="31" fill="#ff4500"/>
<rect x="750" y="203" width="5" height="8" fill="#ff4500"/>
<rect x="760" y="185" width="1" height="21" fill="#ff4500"/>
<rect x="758" y="193" width="5" height="11" fill="#ff4500"/>
<rect x="768" y="210" width="1" height="103" fill="#32cd32"/>
<rect x="766" y="210" width="5" height="73" fill="#32cd32"/>
<rect x="776" y="256" width="1" height="35" fill="#000"/>
<rect x="774" y="281" width="5" height="1" fill="#000"/>
<rect x="784" y="267" width="1" height="37" fill="#32cd32"/>
<rect x="782" y="274" width="5" height="24" fill="#32cd32"/>
<rect x="792" y="281" width="1" height="22" fill="#ff4500"/>
<rect x="790" y="289" width="5" height="9" fill="#ff4500"/>
<rect x="800" y="266" width="1" height="32" fill="#32cd32"/>
<rect x="798" y="269" width="5" height="15" fill="#32cd32"/>
<rect x="808" y="279" width="1" height="22" fill="#32cd32"/>
<rect x="806" y="283" width="5" height="6" fill="#32cd32"/>
<rect x="816" y="242" width="1" height="41" fill="#32cd32"/>
<rect x="814" y="269" width="5" height="10" fill="#32cd32"/>
<rect x="824" y="273" width="1" height="34" fill="#32cd32"/>
<rect x="822" y="277" width="5" height="16" fill="#32cd32"/>
<rect x="832" y="246" width="1" height="52" fill="#ff4500"/>
<rect x="830" y="259" width="5" height="33" fill="#ff4500"/>
<rect x="840" y="250" width="1" height="19" fill="#32cd32"/>
<rect x="838" y="258" width="5" height="5" fill="#32cd32"/>
<rect x="848" y="218" width="1" height="109" fill="#ff4500"/>
<rect x="846" y="221" width="5" height="63" fill="#ff4500"/>
<rect x="856" y="218" width="1" height="42" fill="#32cd32"/>
<rect x="854" y="220" width="5" height="27" fill="#32cd32"/>
<rect x="864" y="237" width="1" height="29" fill="#32cd32"/>
<rect x="862" y="251" width="5" height="6" fill="#32cd32"/>
<rect x="872" y="254" width="1" height="15" fill="#32cd32"/>
<rect x="870" y="256" width="5" height="5" fill="#32cd32"/>
<rect x="880" y="246" width="1" height="42" fill="#ff4500"/>
<rect x="878" y="254" width="5" height="22" fill="#ff4500"/>
<rect x="888" y="249" width="1" height="19" fill="#32cd32"/>
<rect x="886" y="255" width="5" height="13" fill="#32cd32"/>
<rect x="896" y="283" width="1" height="23" fill="#32cd32"/>
<rect x="894" y="287" width="5" height="11" fill="#32cd32"/>
<rect x="904" y="283" width="1" height="21" fill="#32cd32"/>
<rect x="902" y="298" width="5" height="5" fill="#32cd32"/>
<rect x="912" y="235" width="1" height="53" fill="#ff4500"/>
<rect x="910" y="253" width="5" height="31" fill="#ff4500"/>
<rect x="920" y="249" width="1" height="27" fill="#32cd32"/>
<rect x="918" y="252" width="5" height="12" fill="#32cd32"/>
<rect x="928" y="250" width="1" height="60" fill="#32cd32"/>
<rect x="926" y="259" width="5" height="10" fill="#32cd32"/>
<rect x="936" y="267" width="1" height="26" fill="#32cd32"/>
<rect x="934" y="267" width="5" height="25" fill="#32cd32"/>
<rect x="944" y="275" width="1" height="23" fill="#32cd32"/>
<rect x="942" y="281" width="5" height="9" fill="#32cd32"/>
<rect x="952" y="276" width="1" height="18" fill="#ff4500"/>
<rect x="950" y="281" width="5" height="9" fill="#ff4500"/>
<rect x="960" y="222" width="1" height="46" fill="#ff4500"/>
<rect x="958" y="238" width="5" height="30" fill="#ff4500"/>
<rect x="968" y="238" width="1" height="25" fill="#32cd32"/>
<rect x="966" y="238" width="5" height="16" fill="#32cd32"/>
<rect x="976" y="220" width="1" height="37" fill="#ff4500"/>
<rect x="974" y="234" width="5" height="15" fill="#ff4500"/>
<rect x="984" y="217" width="1" height="24" fill="#ff4500"/>
<rect x="982" y="218" width="5" height="18" fill="#ff4500"/>
<rect x="992" y="217" width="1" height="17" fill="#ff4500"/>
<rect x="990" y="228" width="5" height="5" fill="#ff4500"/>
<rect x="1000" y="204" width="1" height="27" fill="#ff4500"/>
<rect x="998" y="214" width="5" height="14" fill="#ff4500"/>
<rect x="1008" y="212" width="1" height="24" fill="#32cd32"/>
<rect x="1006" y="218" width="5" height="8" fill="#32cd32"/>
<rect x="1016" y="220" width="1" height="18" fill="#ff4500"/>
<rect x="1014" y="222" width="5" height="3" fill="#ff4500"/>
<rect x="1024" y="181" width="1" height="34" fill="#ff4500"/>
<rect x="1022" y="192" width="5" height="23" fill="#ff4500"/>
<rect x="1032" y="191" width="1" height="18" fill="#32cd32"/>
<rect x="1030" y="192" width="5" height="15" fill="#32cd32"/>
<rect x="1040" y="218" width="1" height="22" fill="#32cd32"/>
<rect x="1038" y="218" width="5" height="9" fill="#32cd32"/>
<rect x="1048" y="219" width="1" height="17" fill="#32cd32"/>
<rect x="1046" y="226" width="5" height="3" fill="#32cd32"/>
<rect x="1056" y="235" width="1" height="39" fill="#32cd32"/>
<rect x="1054" y="246" width="5" height="21" fill="#32cd32"/>
<rect x="1064" y="259" width="1" height="19" fill="#ff4500"/>
<rect x="1062" y="262" width="5" height="6" fill="#ff4500"/>
<rect x="1072" y="317" width="1" height="28" fill="#ff4500"/>
<rect x="1070" y="330" width="5" height="8" fill="#ff4500"/>
<rect x="1080" y="311" width="1" height="24" fill="#ff4500"/>
<rect x="1078" y="319" width="5" height="12" fill="#ff4500"/>
<rect x="1088" y="333" width="1" height="40" fill="#32cd32"/>
<rect x="1086" y="346" width="5" height="16" fill="#32cd32"/>
<rect x="1096" y="357" width="1" height="34" fill="#32cd32"/>
<rect x="1094" y="360" width="5" height="27" fill="#32cd32"/>
<rect x="1104" y="438" width="1" height="37" fill="#32cd32"/>
<rect x="1102" y="442" width="5" height="10" fill="#32cd32"/>
<rect x="1112" y="413" width="1" height="31" fill="#ff4500"/>
<rect x="1110" y="425" width="5" height="19" fill="#ff4500"/>
<rect x="1120" y="409" width="1" height="30" fill="#32cd32"/>
<rect x="1118" y="411" width="5" height="19" fill="#32cd32"/>
<rect x="1128" y="424" width="1" height="29" fill="#32cd32"/>
<rect x="1126" y="430" width="5" height="20" fill="#32cd32"/>
<rect x="1136" y="403" width="1" height="28" fill="#ff4500"/>
<rect x="1134" y="412" width="5" height="7" fill="#ff4500"/>
<rect x="1144" y="400" width="1" height="21" fill="#32cd32"/>
<rect x="1142" y="412" width="5" height="1" fill="#32cd32"/>
<rect x="1152" y="394" width="1" height="43" fill="#32cd32"/>
<rect x="1150" y="396" width="5" height="36" fill="#32cd32"/>
<rect x="1160" y="423" width="1" height="24" fill="#ff4500"/>
<rect x="1158" y="430" width="5" height="3" fill="#ff4500"/>
<rect x="1168" y="393" width="1" height="32" fill="#ff4500"/>
<rect x="1166" y="403" width="5" height="10" fill="#ff4500"/>
<rect x="1176" y="377" width="1" height="41" fill="#ff4500"/>
<rect x="1174" y="382" width="5" height="22" fill="#ff4500"/>
<rect x="1184" y="389" width="1" height="21" fill="#32cd32"/>
<rect x="1182" y="397" width="5" height="10" fill="#32cd32"/>
<rect x="1192" y="399" width="1" height="16" fill="#ff4500"/>
<rect x="1190" y="400" width="5" height="7" fill="#ff4500"/>
<rect x="1200" y="350" width="1" height="27" fill="#32cd32"/>
<rect x="1198" y="358" width="5" height="9" fill="#32cd32"/>
<rect x="1208" y="364" width="1" height="19" fill="#32cd32"/>
<rect x="1206" y="366" width="5" height="16" fill="#32cd32"/>
<rect x="1216" y="406" width="1" height="43" fill="#ff4500"/>
<rect x="1214" y="412" width="5" height="31" fill="#ff4500"/>
<rect x="1224" y="374" width="1" height="48" fill="#ff4500"/>
<rect x="1222" y="380" width="5" height="33" fill="#ff4500"/>
<rect x="1232" y="343" width="1" height="52" fill="#ff4500"/>
<rect x="1230" y="354" width="5" height="24" fill="#ff4500"/>
<rect x="1240" y="346" width="1" height="29" fill="#32cd32"/>
<rect x="1238" y="353" width="5" height="17" fill="#32cd32"/>
<rect x="1248" y="303" width="1" height="56" fill="#ff4500"/>
<rect x="1246" y="303" width="5" height="37" fill="#ff4500"/>
<rect x="1256" y="274" width="1" height="38" fill="#ff4500"/>
<rect x="1254" y="278" width="5" height="26" fill="#ff4500"/>
<rect x="1264" y="268" width="1" height="22" fill="#ff4500"/>
<rect x="1262" y="280" width="5" height="9" fill="#ff4500"/>
<rect x="1272" y="276" width="1" height="14" fill="#32cd32"/>
<rect x="1270" y="281" width="5" height="8" fill="#32cd32"/>
<rect x="1280" y="279" width="1" height="16" fill="#ff4500"/>
<rect x="1278" y="287" width="5" height="4" fill="#ff4500"/>
<rect x="1288" y="279" width="1" height="11" fill="#ff4500"/>
<rect x="1286" y="286" width="5" height="1" fill="#ff4500"/>
<rect x="1296" y="276" width="1" height="22" fill="#32cd32"/>
<rect x="1294" y="278" width="5" height="17" fill="#32cd32"/>
<rect x="1304" y="278" width="1" height="24" fill="#ff4500"/>
<rect x="1302" y="283" width="5" height="12" fill="#ff4500"/>
<rect x="1312" y="240" width="1" height="49" fill="#ff4500"/>
<rect x="1310" y="255" width="5" height="27" fill="#ff4500"/>
<rect x="1320" y="244" width="1" height="24" fill="#32cd32"/>
<rect x="1318" y="255" width="5" height="4" fill="#32cd32"/>
<rect x="1328" y="284" width="1" height="32" fill="#ff4500"/>
<rect x="1326" y="295" width="5" height="10" fill="#ff4500"/>
<rect x="1336" y="293" width="1" height="20" fill="#32cd32"/>
<rect x="1334" y="294" width="5" height="4" fill="#32cd32"/>
</g>
<g shape-rendering="crispEdges">
<g clip-path="url(#c2)">
<rect x="8" y="556" width="1" height="1" fill="#c0c0c0"/>
<rect x="16" y="556" width="1" height="2" fill="#c0c0c0"/>
<rect x="24" y="556" width="1" height="4" fill="#c0c0c0"/>
<rect x="32" y="556" width="1" height="6" fill="#c0c0c0"/>
<rect x="40" y="556" width="1" height="7" fill="#c0c0c0"/>
<rect x="48" y="556" width="1" height="8" fill="#c0c0c0"/>
<rect x="56" y="556" width="1" height="9" fill="#c0c0c0"/>
<rect x="64" y="556" width="1" height="15" fill="#c0c0c0"/>
<rect x="72" y="556" width="1" height="21" fill="#c0c0c0"/>
<rect x="80" y="556" width="1" height="24" fill="#c0c0c0"/>
<rect x="88" y="556" width="1" height="26" fill="#c0c0c0"/>
<rect x="96" y="556" width="1" height="28" fill="#c0c0c0"/>
<rect x="104" y="556" width="1" height="30" fill="#c0c0c0"/>
<rect x="112" y="556" width="1" height="33" fill="#c0c0c0"/>
<rect x="120" y="556" width="1" height="35" fill="#c0c0c0"/>
<rect x="128" y="556" width="1" height="34" fill="#c0c0c0"/>
<rect x="136" y="556" width="1" height="33" fill="#c0c0c0"/>
<rect x="144" y="556" width="1" height="32" fill="#c0c0c0"/>
<rect x="152" y="556" width="1" height="31" fill="#c0c0c0"/>
<rect x="160" y="556" width="1" height="30" fill="#c0c0c0"/>
<rect x="168" y="556" width="1" height="29" fill="#c0c0c0"/>
<rect x="176" y="556" width="1" height="27" fill="#c0c0c0"/>
<rect x="184" y="556" width="1" height="25" fill="#c0c0c0"/>
<rect x="192" y="556" width="1" height="23" fill="#c0c0c0"/>
<rect x="200" y="556" width="1" height="21" fill="#c0c0c0"/>
<rect x="208" y="556" width="1" height="21" fill="#c0c0c0"/>
<rect x="216" y="556" width="1" height="21" fill="#c0c0c0"/>
<rect x="224" y="556" width="1" height="22" fill="#c0c0c0"/>
<rect x="232" y="556" width="1" height="23" fill="#c0c0c0"/>
<rect x="240" y="556" width="1" height="21" fill="#c0c0c0"/>
<rect x="248" y="556" width="1" height="20" fill="#c0c0c0"/>
<rect x="256" y="556" width="1" height="20" fill="#c0c0c0"/>
<rect x="264" y="556" width="1" height="20" fill="#c0c0c0"/>
<rect x="272" y="556" width="1" height="20" fill="#c0c0c0"/>
<rect x="280" y="556" width="1" height="20" fill="#c0c0c0"/>
<rect x="288" y="556" width="1" height="19" fill="#c0c0c0"/>
<rect x="296" y="556" width="1" height="19" fill="#c0c0c0"/>
<rect x="304" y="556" width="1" height="18" fill="#c0c0c0"/>
<rect x="312" y="556" width="1" height="18" fill="#c0c0c0"/>
<rect x="320" y="556" width="1" height="15" fill="#c0c0c0"/>
<rect x="328" y="556" width="1" height="13" fill="#c0c0c0"/>
<rect x="336" y="556" width="1" height="12" fill="#c0c0c0"/>
<rect x="344" y="556" width="1" height="10" fill="#c0c0c0"/>
<rect x="352" y="556" width="1" height="10" fill="#c0c0c0"/>
<rect x="360" y="556" width="1" height="10" fill="#c0c0c0"/>
<rect x="368" y="556" width="1" height="9" fill="#c0c0c0"/>
<rect x="376" y="556" width="1" height="8" fill="#c0c0c0"/>
<rect x="384" y="556" width="1" height="8" fill="#c0c0c0"/>
<rect x="392" y="556" width="1" height="7" fill="#c0c0c0"/>
<rect x="400" y="556" width="1" height="7" fill="#c0c0c0"/>
<rect x="408" y="556" width="1" height="7" fill="#c0c0c0"/>
<rect x="416" y="556" width="1" height="7" fill="#c0c0c0"/>
<rect x="424" y="556" width="1" height="7" fill="#c0c0c0"/>
<rect x="432" y="556" width="1" height="7" fill="#c0c0c0"/>
<rect x="440" y="556" width="1" height="7" fill="#c0c0c0"/>
<rect x="448" y="556" width="1" height="7" fill="#c0c0c0"/>
<rect x="456" y="556" width="1" height="6" fill="#c0c0c0"/>
<rect x="464" y="556" width="1" height="4" fill="#c0c0c0"/>
<rect x="472" y="556" width="1" height="1" fill="#c0c0c0"/>
<rect x="480" y="556" width="1" height="1" fill="#c0c0c0"/>
<rect x="488" y="555" width="1" height="2" fill="#c0c0c0"/>
<rect x="496" y="554" width="1" height="3" fill="#c0c0c0"/>
<rect x="504" y="553" width="1" height="4" fill="#c0c0c0"/>
<rect x="512" y="553" width="1" height="4" fill="#c0c0c0"/>
<rect x="520" y="553" width="1" height="4" fill="#c0c0c0"/>
<rect x="528" y="554" width="1" height="3" fill="#c0c0c0"/>
<rect x="536" y="554" width="1" height="3" fill="#c0c0c0"/>
<rect x="544" y="553" width="1" height="4" fill="#c0c0c0"/>
<rect x="552" y="553" width="1" height="4" fill="#c0c0c0"/>
<rect x="560" y="552" width="1" height="5" fill="#c0c0c0"/>
<rect x="568" y="550" width="1" height="7" fill="#c0c0c0"/>
<rect x="576" y="547" width="1" height="10" fill="#c0c0c0"/>
<rect x="584" y="545" width="1" height="12" fill="#c0c0c0"/>
<rect x="592" y="543" width="1" height="14" fill="#c0c0c0"/>
<rect x="600" y="541" width="1" height="16" fill="#c0c0c0"/>
<rect x="608" y="541" width="1" height="16" fill="#c0c0c0"/>
<rect x="616" y="540" width="1" height="17" fill="#c0c0c0"/>
<rect x="624" y="542" width="1" height="15" fill="#c0c0c0"/>
<rect x="632" y="543" width="1" height="14" fill="#c0c0c0"/>
<rect x="640" y="544" width="1" height="13" fill="#c0c0c0"/>
<rect x="648" y="544" width="1" height="13" fill="#c0c0c0"/>
<rect x="656" y="543" width="1" height="14" fill="#c0c0c0"/>
<rect x="664" y="544" width="1" height="13" fill="#c0c0c0"/>
<rect x="672" y="544" width="1" height="13" fill="#c0c0c0"/>
<rect x="680" y="543" width="1" height="14" fill="#c0c0c0"/>
<rect x="688" y="542" width="1" height="15" fill="#c0c0c0"/>
<rect x="696" y="540" width="1" height="17" fill="#c0c0c0"/>
<rect x="704" y="539" width="1" height="18" fill="#c0c0c0"/>
<rect x="712" y="538" width="1" height="19" fill="#c0c0c0"/>
<rect x="720" y="538" width="1" height="19" fill="#c0c0c0"/>
<rect x="728" y="539" width="1" height="18" fill="#c0c0c0"/>
<rect x="736" y="540" width="1" height="17" fill="#c0c0c0"/>
<rect x="744" y="541" width="1" height="16" fill="#c0c0c0"/>
<rect x="752" y="542" width="1" height="15" fill="#c0c0c0"/>
<rect x="760" y="543" width="1" height="14" fill="#c0c0c0"/>
<rect x="768" y="546" width="1" height="11" fill="#c0c0c0"/>
<rect x="776" y="549" width="1" height="8" fill="#c0c0c0"/>
<rect x="784" y="551" width="1" height="6" fill="#c0c0c0"/>
<rect x="792" y="553" width="1" height="4" fill="#c0c0c0"/>
<rect x="800" y="555" width="1" height="2" fill="#c0c0c0"/>
<rect x="808" y="556" width="1" height="1" fill="#c0c0c0"/>
<rect x="816" y="556" width="1" height="1" fill="#c0c0c0"/>
<rect x="824" y="556" width="1" height="1" fill="#c0c0c0"/>
<rect x="832" y="556" width="1" height="1" fill="#c0c0c0"/>
<rect x="840" y="556" width="1" height="1" fill="#c0c0c0"/>
<rect x="848" y="556" width="1" height="1" fill="#c0c0c0"/>
<rect x="856" y="556" width="1" height="1" fill="#c0c0c0"/>
<rect x="864" y="556" width="1" height="1" fill="#c0c0c0"/>
<rect x="872" y="556" width="1" height="1" fill="#c0c0c0"/>
<rect x="880" y="556" width="1" height="1" fill="#c0c0c0"/>
<rect x="888" y="556" width="1" height="1" fill="#c0c0c0"/>
<rect x="896" y="556" width="1" height="1" fill="#c0c0c0"/>
<rect x="904" y="556" width="1" height="2" fill="#c0c0c0"/>
<rect x="912" y="556" width="1" height="2" fill="#c0c0c0"/>
<rect x="920" y="556" width="1" height="1" fill="#c0c0c0"/>
<rect x="928" y="556" width="1" height="2" fill="#c0c0c0"/>
<rect x="936" y="556" width="1" height="2" fill="#c0c0c0"/>
<rect x="944" y="556" width="1" height="1" fill="#c0c0c0"/>
<rect x="952" y="556" width="1" height="2" fill="#c0c0c0"/>
<rect x="960" y="556" width="1" height="1" fill="#c0c0c0"/>
<rect x="968" y="556" width="1" height="2" fill="#c0c0c0"/>
<rect x="976" y="556" width="1" height="1" fill="#c0c0c0"/>
<rect x="984" y="556" width="1" height="1" fill="#c0c0c0"/>
<rect x="992" y="555" width="1" height="2" fill="#c0c0c0"/>
<rect x="1000" y="554" width="1" height="3" fill="#c0c0c0"/>
<rect x="1008" y="553" width="1" height="4" fill="#c0c0c0"/>
<rect x="1016" y="553" width="1" height="4" fill="#c0c0c0"/>
<rect x="1024" y="552" width="1" height="5" fill="#c0c0c0"/>
<rect x="1032" y="552" width="1" height="5" fill="#c0c0c0"/>
<rect x="1040" y="552" width="1" height="5" fill="#c0c0c0"/>
<rect x="1048" y="553" width="1" height="4" fill="#c0c0c0"/>
<rect x="1056" y="554" width="1" height="3" fill="#c0c0c0"/>
<rect x="1064" y="555" width="1" height="2" fill="#c0c0c0"/>
<rect x="1072" y="556" width="1" height="1" fill="#c0c0c0"/>
<rect x="1080" y="556" width="1" height="3" fill="#c0c0c0"/>
<rect x="1088" y="556" width="1" height="6" fill="#c0c0c0"/>
<rect x="1096" y="556" width="1" height="8" fill="#c0c0c0"/>
<rect x="1104" y="556" width="1" height="12" fill="#c0c0c0"/>
<rect x="1112" y="556" width="1" height="15" fill="#c0c0c0"/>
<rect x="1120" y="556" width="1" height="17" fill="#c0c0c0"/>
<rect x="1128" y="556" width="1" height="18" fill="#c0c0c0"/>
<rect x="1136" y="556" width="1" height="18" fill="#c0c0c0"/>
<rect x="1144" y="556" width="1" height="18" fill="#c0c0c0"/>
<rect x="1152" y="556" width="1" height="18" fill="#c0c0c0"/>
<rect x="1160" y="556" width="1" height="18" fill="#c0c0c0"/>
<rect x="1168" y="556" width="1" height="17" fill="#c0c0c0"/>
<rect x="1176" y="556" width="1" height="16" fill="#c0c0c0"/>
<rect x="1184" y="556" width="1" height="15" fill="#c0c0c0"/>
<rect x="1192" y="556" width="1" height="14" fill="#c0c0c0"/>
<rect x="1200" y="556" width="1" height="13" fill="#c0c0c0"/>
<rect x="1208" y="556" width="1" height="11" fill="#c0c0c0"/>
<rect x="1216" y="556" width="1" height="11" fill="#c0c0c0"/>
<rect x="1224" y="556" width="1" height="10" fill="#c0c0c0"/>
<rect x="1232" y="556" width="1" height="9" fill="#c0c0c0"/>
<rect x="1240" y="556" width="1" height="7" fill="#c0c0c0"/>
<rect x="1248" y="556" width="1" height="5" fill="#c0c0c0"/>
<rect x="1256" y="556" width="1" height="2" fill="#c0c0c0"/>
<rect x="1264" y="556" width="1" height="1" fill="#c0c0c0"/>
<rect x="1272" y="554" width="1" height="3" fill="#c0c0c0"/>
<rect x="1280" y="553" width="1" height="4" fill="#c0c0c0"/>
<rect x="1288" y="552" width="1" height="5" fill="#c0c0c0"/>
<rect x="1296" y="551" width="1" height="6" fill="#c0c0c0"/>
<rect x="1304" y="551" width="1" height="6" fill="#c0c0c0"/>
<rect x="1312" y="550" width="1" height="7" fill="#c0c0c0"/>
<rect x="1320" y="549" width="1" height="8" fill="#c0c0c0"/>
<rect x="1328" y="549" width="1" height="8" fill="#c0c0c0"/>
<rect x="1336" y="550" width="1" height="7" fill="#c0c0c0"/>
</g>
</g>
<g shape-rendering="crispEdges">
<path fill="#ff0000" d="M8 548h2v1h-2zM10 549h1v1h-1zM14 550h3v1h-3zM20 551h2v1h-2zM22 552h1v1h-1zM26 553h3v1h-3zM32 554h3v1h-3zM38 555h3v1h-3zM44 556h3v1h-3zM50 557h1v1h-1zM51 558h2v1h-2zM56 559h3v1h-3zM62 560h1v1h-1zM63 561h2v1h-2zM68 562h1v1h-1zM69 563h2v1h-2zM74 564h1v1h-1zM75 565h2v1h-2zM80 567h3v1h-3zM86 569h3v1h-3zM92 570h1v1h-1zM93 571h2v1h-2zM98 572h1v1h-1zM99 573h2v1h-2zM104 575h1v1h-1zM105 576h2v1h-2zM110 578h2v1h-2zM112 579h1v1h-1zM116 580h3v1h-3zM122 582h3v1h-3zM128 583h1v1h-1zM129 584h2v1h-2zM134 585h3v1h-3zM140 586h3v1h-3zM146 587h3v1h-3zM152 587h2v1h-2zM154 588h1v1h-1zM158 588h3v1h-3zM164 588h3v1h-3zM170 588h3v1h-3zM176 588h3v1h-3zM182 587h3v1h-3zM188 586h3v1h-3zM194 585h3v1h-3zM200 584h3v1h-3zM206 584h3v1h-3zM212 583h1v1h-1zM213 582h2v1h-2zM218 582h2v1h-2zM220 581h1v1h-1zM224 580h3v1h-3zM230 580h3v1h-3zM236 580h2v1h-2zM238 579h1v1h-1zM242 579h2v1h-2zM244 578h1v1h-1zM248 578h3v1h-3zM254 578h3v1h-3zM260 578h1v1h-1zM261 577h2v1h-2zM266 577h1v1h-1zM267 576h2v1h-2zM272 576h3v1h-3zM278 576h3v1h-3zM284 576h3v1h-3zM290 576h3v1h-3zM296 576h3v1h-3zM302 575h3v1h-3zM308 575h3v1h-3zM314 575h2v1h-2zM316 574h1v1h-1zM320 574h3v1h-3zM326 574h3v1h-3zM332 574h3v1h-3zM338 574h1v1h-1zM339 573h2v1h-2zM344 573h2v1h-2zM346 572h1v1h-1zM350 572h3v1h-3zM356 572h1v1h-1zM357 571h2v1h-2zM362 571h1v1h-1zM363 570h2v1h-2zM368 569h3v1h-3zM374 568h3v1h-3zM380 568h1v1h-1zM381 567h2v1h-2zM386 567h1v1h-1zM387 566h2v1h-2zM392 566h3v1h-3zM398 566h3v1h-3zM404 565h3v1h-3zM410 564h3v1h-3zM416 564h3v1h-3zM422 564h3v1h-3zM428 563h3v1h-3zM434 563h3v1h-3zM440 563h3v1h-3zM446 563h3v1h-3zM452 563h3v1h-3zM458 563h3v1h-3zM464 563h3v1h-3zM470 562h3v1h-3zM476 562h2v1h-2zM478 561h1v1h-1zM482 561h3v1h-3zM488 560h3v1h-3zM494 559h3v1h-3zM500 559h2v1h-2zM502 558h1v1h-1zM506 558h2v1h-2zM508 557h1v1h-1zM512 556h3v1h-3zM518 555h3v1h-3zM524 555h1v1h-1zM525 554h2v1h-2zM530 554h3v1h-3zM536 554h3v1h-3zM542 553h3v1h-3zM548 553h3v1h-3zM554 553h2v1h-2zM556 552h1v1h-1zM560 552h3v1h-3zM566 552h3v1h-3zM572 552h3v1h-3zM578 552h1v1h-1zM579 551h2v1h-2zM584 550h3v1h-3zM590 549h3v1h-3zM596 548h3v1h-3zM602 548h3v1h-3zM608 547h1v1h-1zM609 546h2v1h-2zM614 545h3v1h-3zM620 544h3v1h-3zM626 543h3v1h-3zM632 543h3v1h-3zM638 542h3v1h-3zM644 541h3v1h-3zM650 541h3v1h-3zM656 541h3v1h-3zM662 542h3v1h-3zM668 542h3v1h-3zM674 542h3v1h-3zM680 542h3v1h-3zM686 542h3v1h-3zM692 542h3v1h-3zM698 542h3v1h-3zM704 542h3v1h-3zM710 541h3v1h-3zM716 541h3v1h-3zM722 541h1v1h-1zM723 540h2v1h-2zM728 540h3v1h-3zM734 540h3v1h-3zM740 539h3v1h-3zM746 539h3v1h-3zM752 539h3v1h-3zM758 539h3v1h-3zM764 539h1v1h-1zM765 540h2v1h-2zM770 540h3v1h-3zM776 541h3v1h-3zM782 541h1v1h-1zM783 542h2v1h-2zM788 543h3v1h-3zM794 544h2v1h-2zM796 545h1v1h-1zM800 546h2v1h-2zM802 547h1v1h-1zM806 548h3v1h-3zM812 549h3v1h-3zM818 550h3v1h-3zM824 551h3v1h-3zM830 553h3v1h-3zM836 554h3v1h-3zM842 555h3v1h-3zM848 555h3v1h-3zM854 555h3v1h-3zM860 556h3v1h-3zM866 556h3v1h-3zM872 556h3v1h-3zM878 556h3v1h-3zM884 556h3v1h-3zM890 556h3v1h-3zM896 556h3v1h-3zM902 556h3v1h-3zM908 556h3v1h-3zM914 556h3v1h-3zM920 556h3v1h-3zM926 557h3v1h-3zM932 557h3v1h-3zM938 557h3v1h-3zM944 557h3v1h-3zM950 558h3v1h-3zM956 558h3v1h-3zM962 558h3v1h-3zM968 558h3v1h-3zM974 557h3v1h-3zM980 557h3v1h-3zM986 557h3v1h-3zM992 557h3v1h-3zM998 556h3v1h-3zM1004 556h3v1h-3zM1010 556h2v1h-2zM1012 555h1v1h-1zM1016 555h3v1h-3zM1022 554h3v1h-3zM1028 554h1v1h-1zM1029 553h2v1h-2zM1034 552h3v1h-3zM1040 552h3v1h-3zM1046 552h3v1h-3zM1052 552h3v1h-3zM1058 552h3v1h-3zM1064 552h3v1h-3zM1070 552h3v1h-3zM1076 552h1v1h-1zM1077 553h2v1h-2zM1082 553h1v1h-1zM1083 554h2v1h-2zM1088 554h3v1h-3zM1094 556h3v1h-3zM1100 557h3v1h-3zM1106 558h1v1h-1zM1107 559h2v1h-2zM1112 560h3v1h-3zM1118 561h3v1h-3zM1124 563h1v1h-1zM1125 564h2v1h-2zM1130 565h1v1h-1zM1131 566h2v1h-2zM1136 567h3v1h-3zM1142 568h1v1h-1zM1143 569h2v1h-2zM1148 570h3v1h-3zM1154 571h3v1h-3zM1160 572h3v1h-3zM1166 573h3v1h-3zM1172 573h3v1h-3zM1178 573h3v1h-3zM1184 573h3v1h-3zM1190 573h3v1h-3zM1196 573h3v1h-3zM1202 573h1v1h-1zM1203 572h2v1h-2zM1208 572h3v1h-3zM1214 571h3v1h-3zM1220 570h3v1h-3zM1226 570h2v1h-2zM1228 569h1v1h-1zM1232 569h3v1h-3zM1238 568h3v1h-3zM1244 567h3v1h-3zM1250 566h3v1h-3zM1256 566h2v1h-2zM1258 565h1v1h-1zM1261 563h3v1h-3zM1267 562h1v1h-1zM1268 561h2v1h-2zM1273 561h3v1h-3zM1279 560h3v1h-3zM1285 558h3v1h-3zM1291 557h1v1h-1zM1292 556h2v1h-2zM1297 556h3v1h-3zM1303 555h3v1h-3zM1309 553h3v1h-3zM1315 552h3v1h-3zM1321 551h3v1h-3zM1327 550h3v1h-3zM1333 550h3v1h-3z"/>
<path fill="#1e90ff" d="M8 670h2v1h-2zM10 671h2v1h-2zM12 672h3v1h-3zM15 673h2v1h-2zM17 674h2v1h-2zM19 675h2v1h-2zM21 676h2v1h-2zM23 677h2v1h-2zM25 676h2v1h-2zM27 675h2v1h-2zM29 674h2v1h-2zM31 673h21v1h-21zM52 674h5v1h-5zM56 675h1v1h-1zM57 676h1v2h-1zM58 678h1v2h-1zM59 680h1v3h-1zM60 683h1v2h-1zM61 685h1v3h-1zM62 688h1v2h-1zM63 690h1v2h-1zM64 692h1v2h-1zM65 693h3v1h-3zM68 694h5v1h-5zM73 693h1v1h-1zM74 692h1v1h-1zM75 691h1v1h-1zM76 690h1v1h-1zM77 689h1v1h-1zM78 688h1v1h-1zM79 687h1v1h-1zM80 686h4v1h-4zM84 685h8v1h-8zM92 686h5v1h-5zM97 687h2v1h-2zM99 688h2v1h-2zM101 689h2v1h-2zM103 690h2v1h-2zM105 691h2v1h-2zM107 692h2v1h-2zM109 693h2v1h-2zM111 694h3v1h-3zM114 693h4v1h-4zM118 692h3v1h-3zM121 691h1v1h-1zM122 690h1v1h-1zM123 689h1v1h-1zM124 687h1v2h-1zM125 686h1v1h-1zM126 685h1v1h-1zM127 684h1v1h-1zM128 683h1v1h-1zM129 682h1v1h-1zM130 680h1v2h-1zM131 679h1v1h-1zM132 678h1v1h-1zM133 677h1v1h-1zM134 675h1v2h-1zM135 674h1v1h-1zM136 673h1v1h-1zM137 674h2v1h-2zM139 675h2v1h-2zM141 676h2v1h-2zM143 677h3v1h-3zM146 678h4v1h-4zM150 679h14v1h-14zM164 680h5v1h-5zM169 679h1v1h-1zM170 678h1v1h-1zM171 677h1v1h-1zM172 676h1v1h-1zM173 675h1v1h-1zM174 674h1v1h-1zM175 673h1v1h-1zM176 672h1v1h-1zM177 671h2v1h-2zM179 670h2v1h-2zM181 669h2v1h-2zM183 668h3v1h-3zM186 669h4v1h-4zM190 670h6v1h-6zM196 669h5v1h-5zM201 670h1v1h-1zM202 671h1v1h-1zM203 672h1v1h-1zM204 673h2v1h-2zM206 674h1v1h-1zM207 675h1v1h-1zM208 676h2v1h-2zM210 677h2v1h-2zM212 678h3v1h-3zM215 679h3v1h-3zM218 680h4v1h-4zM222 681h6v1h-6zM228 680h5v1h-5zM233 678h1v2h-1zM234 677h1v1h-1zM235 675h1v2h-1zM236 674h1v1h-1zM237 672h1v2h-1zM238 671h1v1h-1zM239 669h1v2h-1zM240 668h1v1h-1zM241 669h2v1h-2zM243 670h1v1h-1zM244 671h2v1h-2zM246 672h2v1h-2zM248 673h4v1h-4zM252 672h8v1h-8zM260 673h5v1h-5zM265 674h2v1h-2zM267 675h1v1h-1zM268 676h2v1h-2zM270 677h2v1h-2zM272 678h2v1h-2zM274 679h4v1h-4zM278 680h6v1h-6zM284 679h8v1h-8zM292 678h13v1h-13zM305 677h1v1h-1zM306 676h1v1h-1zM307 675h1v1h-1zM308 674h1v1h-1zM309 673h1v1h-1zM310 672h1v1h-1zM311 671h1v1h-1zM312 670h1v1h-1zM313 669h1v1h-1zM314 668h1v1h-1zM315 667h1v1h-1zM316 666h1v1h-1zM317 665h1v1h-1zM318 664h1v1h-1zM319 663h1v1h-1zM320 662h1v1h-1zM321 663h2v1h-2zM323 664h2v1h-2zM325 665h2v1h-2zM327 666h11v1h-11zM338 665h4v1h-4zM342 664h3v1h-3zM345 665h1v1h-1zM346 666h1v1h-1zM347 667h1v1h-1zM348 668h2v1h-2zM350 669h1v1h-1zM351 670h1v1h-1zM352 671h1v1h-1zM353 670h1v1h-1zM354 669h1v1h-1zM355 668h1v1h-1zM356 667h2v1h-2zM358 666h1v1h-1zM359 665h1v1h-1zM360 664h2v1h-2zM362 665h4v1h-4zM366 666h4v1h-4zM370 667h2v1h-2zM372 668h3v1h-3zM375 669h10v1h-10zM385 668h2v1h-2zM387 667h1v1h-1zM388 666h2v1h-2zM390 665h2v1h-2zM392 664h1v1h-1zM393 665h1v1h-1zM394 666h1v1h-1zM395 667h1v1h-1zM396 668h2v1h-2zM398 669h1v1h-1zM399 670h1v1h-1zM400 671h2v1h-2zM402 670h4v1h-4zM406 669h4v1h-4zM410 668h2v1h-2zM412 667h3v1h-3zM415 666h2v1h-2zM417 667h1v1h-1zM418 668h2v1h-2zM420 669h1v1h-1zM421 670h1v1h-1zM422 671h2v1h-2zM424 672h4v1h-4zM428 671h5v1h-5zM433 672h2v1h-2zM435 673h1v1h-1zM436 674h2v1h-2zM438 675h2v1h-2zM440 676h1v1h-1zM441 674h1v2h-1zM442 672h1v2h-1zM443 670h1v2h-1zM444 669h1v1h-1zM445 667h1v2h-1zM446 665h1v2h-1zM447 663h1v2h-1zM448 662h2v1h-2zM450 663h4v1h-4zM454 664h3v1h-3zM457 662h1v2h-1zM458 660h1v2h-1zM459 658h1v2h-1zM460 657h1v1h-1zM461 655h1v2h-1zM462 653h1v2h-1zM463 651h1v2h-1zM464 650h1v1h-1zM465 649h2v1h-2zM467 648h2v1h-2zM469 647h2v1h-2zM471 646h2v1h-2zM473 647h1v1h-1zM474 648h2v1h-2zM476 649h1v1h-1zM477 650h1v1h-1zM478 651h2v1h-2zM480 652h10v1h-10zM490 651h4v1h-4zM494 650h3v1h-3zM497 651h2v1h-2zM499 652h2v1h-2zM501 653h2v1h-2zM503 654h3v1h-3zM506 655h4v1h-4zM510 656h4v1h-4zM514 657h2v1h-2zM516 658h3v1h-3zM519 659h5v1h-5zM524 660h6v1h-6zM530 659h4v1h-4zM534 658h4v1h-4zM538 657h4v1h-4zM542 656h6v1h-6zM548 655h5v1h-5zM553 653h1v2h-1zM554 651h1v2h-1zM555 649h1v2h-1zM556 648h1v1h-1zM557 646h1v2h-1zM558 644h1v2h-1zM559 642h1v2h-1zM560 641h1v1h-1zM561 642h1v1h-1zM562 643h2v1h-2zM564 644h1v1h-1zM565 645h1v1h-1zM566 646h2v1h-2zM568 647h1v1h-1zM569 645h1v2h-1zM570 643h1v2h-1zM571 641h1v2h-1zM572 640h1v1h-1zM573 638h1v2h-1zM574 636h1v2h-1zM575 634h1v2h-1zM576 633h1v1h-1zM577 634h1v1h-1zM578 635h1v1h-1zM579 636h1v1h-1zM580 637h2v1h-2zM582 638h1v1h-1zM583 639h1v1h-1zM584 640h4v1h-4zM588 639h6v1h-6zM594 640h4v1h-4zM598 641h14v1h-14zM612 640h5v1h-5zM616 641h1v1h-1zM617 642h1v2h-1zM618 644h1v2h-1zM619 646h1v2h-1zM620 648h1v2h-1zM621 650h1v2h-1zM622 652h1v2h-1zM623 654h1v2h-1zM624 656h2v1h-2zM624 657h1v1h-1zM626 655h2v1h-2zM628 654h1v1h-1zM629 653h1v1h-1zM630 652h2v1h-2zM632 651h4v1h-4zM636 652h13v1h-13zM649 651h1v1h-1zM650 650h1v1h-1zM651 649h1v1h-1zM652 648h1v1h-1zM653 647h1v1h-1zM654 646h1v1h-1zM655 645h1v1h-1zM656 644h2v1h-2zM658 645h2v1h-2zM660 646h3v1h-3zM663 647h2v1h-2zM665 648h2v1h-2zM667 649h2v1h-2zM669 650h2v1h-2zM671 651h2v1h-2zM673 650h2v1h-2zM675 649h2v1h-2zM677 648h2v1h-2zM679 647h2v1h-2zM681 646h1v1h-1zM682 645h1v1h-1zM683 644h1v1h-1zM684 642h1v2h-1zM685 641h1v1h-1zM686 640h1v1h-1zM687 639h1v1h-1zM688 638h2v1h-2zM690 637h4v1h-4zM694 636h19v1h-19zM713 637h2v1h-2zM715 638h1v1h-1zM716 639h2v1h-2zM718 640h2v1h-2zM720 641h1v1h-1zM721 642h2v1h-2zM723 643h2v1h-2zM725 644h2v1h-2zM727 645h2v1h-2zM729 646h2v1h-2zM731 647h2v1h-2zM733 648h2v1h-2zM735 649h3v1h-3zM738 650h4v1h-4zM742 651h4v1h-4zM746 650h4v1h-4zM750 649h4v1h-4zM754 648h4v1h-4zM758 647h3v1h-3zM760 648h1v1h-1zM761 649h1v2h-1zM762 651h1v3h-1zM763 654h1v2h-1zM764 656h1v3h-1zM765 659h1v2h-1zM766 661h1v3h-1zM767 664h1v2h-1zM768 666h1v2h-1zM769 667h3v1h-3zM772 668h6v1h-6zM778 669h2v1h-2zM780 670h3v1h-3zM783 671h3v1h-3zM786 670h4v1h-4zM790 669h4v1h-4zM794 668h4v1h-4zM798 667h4v1h-4zM802 668h4v1h-4zM806 669h4v1h-4zM810 668h2v1h-2zM812 667h3v1h-3zM815 666h3v1h-3zM818 667h2v1h-2zM820 668h3v1h-3zM823 669h2v1h-2zM825 668h1v1h-1zM826 667h1v1h-1zM827 666h1v1h-1zM828 664h1v2h-1zM829 663h1v1h-1zM830 662h1v1h-1zM831 661h1v1h-1zM832 660h9v1h-9zM841 659h1v1h-1zM842 658h1v1h-1zM843 657h1v1h-1zM844 655h1v2h-1zM845 654h1v1h-1zM846 653h1v1h-1zM847 652h1v1h-1zM848 651h1v1h-1zM849 652h1v1h-1zM850 653h2v1h-2zM852 654h1v1h-1zM853 655h1v1h-1zM854 656h2v1h-2zM856 657h2v1h-2zM858 658h2v1h-2zM860 659h3v1h-3zM863 660h3v1h-3zM866 661h4v1h-4zM870 662h4v1h-4zM874 661h4v1h-4zM878 660h4v1h-4zM882 661h2v1h-2zM884 662h3v1h-3zM887 663h2v1h-2zM889 664h1v1h-1zM890 665h1v1h-1zM891 666h1v1h-1zM892 667h2v1h-2zM894 668h1v1h-1zM895 669h1v1h-1zM896 670h2v1h-2zM898 671h4v1h-4zM902 672h3v1h-3zM905 670h1v2h-1zM906 668h1v2h-1zM907 666h1v2h-1zM908 665h1v1h-1zM909 663h1v2h-1zM910 661h1v2h-1zM911 659h1v2h-1zM912 658h2v1h-2zM914 659h4v1h-4zM918 660h4v1h-4zM922 661h4v1h-4zM926 662h3v1h-3zM929 663h1v1h-1zM930 664h2v1h-2zM932 665h1v1h-1zM933 666h1v1h-1zM934 667h2v1h-2zM936 668h9v1h-9zM945 667h2v1h-2zM947 666h2v1h-2zM949 665h2v1h-2zM951 664h2v1h-2zM953 662h1v2h-1zM954 661h1v1h-1zM955 660h1v1h-1zM956 658h1v2h-1zM957 657h1v1h-1zM958 656h1v1h-1zM959 654h1v2h-1zM960 653h1v1h-1zM961 654h2v1h-2zM963 655h2v1h-2zM965 656h2v1h-2zM967 657h2v1h-2zM969 656h2v1h-2zM971 655h2v1h-2zM973 654h2v1h-2zM975 653h2v1h-2zM977 652h2v1h-2zM979 651h2v1h-2zM981 650h2v1h-2zM983 649h3v1h-3zM986 650h2v1h-2zM988 651h3v1h-3zM991 652h3v1h-3zM994 651h2v1h-2zM996 650h3v1h-3zM999 649h3v1h-3zM1002 650h2v1h-2zM1004 651h3v1h-3zM1007 652h10v1h-10zM1017 651h1v1h-1zM1018 650h1v1h-1zM1019 649h1v1h-1zM1020 648h2v1h-2zM1022 647h1v1h-1zM1023 646h1v1h-1zM1024 645h1v1h-1zM1025 646h2v1h-2zM1027 647h2v1h-2zM1029 648h2v1h-2zM1031 649h2v1h-2zM1033 650h1v1h-1zM1034 651h1v1h-1zM1035 652h1v1h-1zM1036 653h2v1h-2zM1038 654h1v1h-1zM1039 655h1v1h-1zM1040 656h9v1h-9zM1049 657h1v2h-1zM1050 659h1v1h-1zM1051 660h1v1h-1zM1052 661h1v2h-1zM1053 663h1v1h-1zM1054 664h1v1h-1zM1055 665h1v2h-1zM1056 667h4v1h-4zM1060 666h5v1h-5zM1065 667h1v2h-1zM1066 669h1v2h-1zM1067 671h1v2h-1zM1068 673h1v1h-1zM1069 674h1v2h-1zM1070 676h1v2h-1zM1071 678h1v2h-1zM1072 680h2v1h-2zM1074 679h2v1h-2zM1076 678h3v1h-3zM1079 677h2v1h-2zM1081 678h1v1h-1zM1082 679h2v1h-2zM1084 680h1v1h-1zM1085 681h1v1h-1zM1086 682h2v1h-2zM1088 683h1v1h-1zM1089 684h2v1h-2zM1091 685h2v1h-2zM1093 686h2v1h-2zM1095 687h2v1h-2zM1097 688h1v1h-1zM1098 689h1v1h-1zM1099 690h1v1h-1zM1100 691h2v1h-2zM1102 692h1v1h-1zM1103 693h1v1h-1zM1104 694h1v1h-1zM1105 693h1v1h-1zM1106 692h1v1h-1zM1107 691h1v1h-1zM1108 690h1v1h-1zM1109 689h1v1h-1zM1110 688h1v1h-1zM1111 687h1v1h-1zM1112 686h4v1h-4zM1116 687h6v1h-6zM1122 688h4v1h-4zM1126 689h3v1h-3zM1129 688h1v1h-1zM1130 686h1v2h-1zM1131 685h1v1h-1zM1132 684h1v1h-1zM1133 683h1v1h-1zM1134 681h1v2h-1zM1135 680h1v1h-1zM1136 679h10v1h-10zM1146 680h2v1h-2zM1148 681h3v1h-3zM1151 682h5v1h-5zM1156 681h5v1h-5zM1161 680h1v1h-1zM1162 679h2v1h-2zM1164 678h1v1h-1zM1165 677h1v1h-1zM1166 676h2v1h-2zM1168 675h1v1h-1zM1169 674h1v1h-1zM1170 673h1v1h-1zM1171 672h1v1h-1zM1172 671h2v1h-2zM1174 670h1v1h-1zM1175 669h1v1h-1zM1176 668h1v1h-1zM1177 669h2v1h-2zM1179 670h1v1h-1zM1180 671h2v1h-2zM1182 672h2v1h-2zM1184 673h2v1h-2zM1186 672h4v1h-4zM1190 671h3v1h-3zM1193 670h1v1h-1zM1194 669h1v1h-1zM1195 668h1v1h-1zM1196 667h1v1h-1zM1197 666h1v1h-1zM1198 665h1v1h-1zM1199 664h1v1h-1zM1200 663h1v1h-1zM1201 664h2v1h-2zM1203 665h2v1h-2zM1205 666h2v1h-2zM1207 667h2v1h-2zM1209 668h2v1h-2zM1211 669h1v1h-1zM1212 670h2v1h-2zM1214 671h2v1h-2zM1216 672h1v1h-1zM1217 671h1v1h-1zM1218 670h1v1h-1zM1219 669h1v1h-1zM1220 668h1v1h-1zM1221 667h1v1h-1zM1222 666h1v1h-1zM1223 665h1v1h-1zM1224 664h1v1h-1zM1225 663h1v1h-1zM1226 662h2v1h-2zM1228 661h1v1h-1zM1229 660h1v1h-1zM1230 659h2v1h-2zM1232 658h1v1h-1zM1233 659h2v1h-2zM1235 660h2v1h-2zM1237 661h2v1h-2zM1239 662h2v1h-2zM1241 660h1v2h-1zM1242 659h1v1h-1zM1243 657h1v2h-1zM1244 656h1v1h-1zM1245 654h1v2h-1zM1246 653h1v1h-1zM1247 651h1v2h-1zM1248 650h1v1h-1zM1249 649h2v1h-2zM1251 648h2v1h-2zM1253 647h2v1h-2zM1255 646h5v1h-5zM1260 647h8v1h-8zM1268 648h22v1h-22zM1290 649h4v1h-4zM1294 650h4v1h-4zM1298 649h4v1h-4zM1302 648h3v1h-3zM1305 647h2v1h-2zM1307 646h2v1h-2zM1309 645h2v1h-2zM1311 644h5v1h-5zM1316 645h5v1h-5zM1321 646h1v1h-1zM1322 647h1v2h-1zM1323 649h1v1h-1zM1324 650h1v1h-1zM1325 651h1v1h-1zM1326 652h1v2h-1zM1327 654h1v1h-1zM1328 655h9v1h-9z"/>
</g>
<g shape-rendering="crispEdges">
<path fill="#c0c0c0" d="M9 635h3v1h-3zM15 635h3v1h-3zM21 635h3v1h-3zM27 635h3v1h-3zM33 635h3v1h-3zM39 635h3v1h-3zM45 635h3v1h-3zM51 635h3v1h-3zM57 635h3v1h-3zM63 635h3v1h-3zM69 635h3v1h-3zM75 635h3v1h-3zM81 635h3v1h-3zM87 635h3v1h-3zM93 635h3v1h-3zM99 635h3v1h-3zM105 635h3v1h-3zM111 635h3v1h-3zM117 635h3v1h-3zM123 635h3v1h-3zM129 635h3v1h-3zM135 635h3v1h-3zM141 635h3v1h-3zM147 635h3v1h-3zM153 635h3v1h-3zM159 635h3v1h-3zM165 635h3v1h-3zM171 635h3v1h-3zM177 635h3v1h-3zM183 635h3v1h-3zM189 635h3v1h-3zM195 635h3v1h-3zM201 635h3v1h-3zM207 635h3v1h-3zM213 635h3v1h-3zM219 635h3v1h-3zM225 635h3v1h-3zM231 635h3v1h-3zM237 635h3v1h-3zM243 635h3v1h-3zM249 635h3v1h-3zM255 635h3v1h-3zM261 635h3v1h-3zM267 635h3v1h-3zM273 635h3v1h-3zM279 635h3v1h-3zM285 635h3v1h-3zM291 635h3v1h-3zM297 635h3v1h-3zM303 635h3v1h-3zM309 635h3v1h-3zM315 635h3v1h-3zM321 635h3v1h-3zM327 635h3v1h-3zM333 635h3v1h-3zM339 635h3v1h-3zM345 635h3v1h-3zM351 635h3v1h-3zM357 635h3v1h-3zM363 635h3v1h-3zM369 635h3v1h-3zM375 635h3v1h-3zM381 635h3v1h-3zM387 635h3v1h-3zM393 635h3v1h-3zM399 635h3v1h-3zM405 635h3v1h-3zM411 635h3v1h-3zM417 635h3v1h-3zM423 635h3v1h-3zM429 635h3v1h-3zM435 635h3v1h-3zM441 635h3v1h-3zM447 635h3v1h-3zM453 635h3v1h-3zM459 635h3v1h-3zM465 635h3v1h-3zM471 635h3v1h-3zM477 635h3v1h-3zM483 635h3v1h-3zM489 635h3v1h-3zM495 635h3v1h-3zM501 635h3v1h-3zM507 635h3v1h-3zM513 635h3v1h-3zM519 635h3v1h-3zM525 635h3v1h-3zM531 635h3v1h-3zM537 635h3v1h-3zM543 635h3v1h-3zM549 635h3v1h-3zM555 635h3v1h-3zM561 635h3v1h-3zM567 635h3v1h-3zM573 635h3v1h-3zM579 635h3v1h-3zM585 635h3v1h-3zM591 635h3v1h-3zM597 635h3v1h-3zM603 635h3v1h-3zM609 635h3v1h-3zM615 635h3v1h-3zM621 635h3v1h-3zM627 635h3v1h-3zM633 635h3v1h-3zM639 635h3v1h-3zM645 635h3v1h-3zM651 635h3v1h-3zM657 635h3v1h-3zM663 635h3v1h-3zM669 635h3v1h-3zM675 635h3v1h-3zM681 635h3v1h-3zM687 635h3v1h-3zM693 635h3v1h-3zM699 635h3v1h-3zM705 635h3v1h-3zM711 635h3v1h-3zM717 635h3v1h-3zM723 635h3v1h-3zM729 635h3v1h-3zM735 635h3v1h-3zM741 635h3v1h-3zM747 635h3v1h-3zM753 635h3v1h-3zM759 635h3v1h-3zM765 635h3v1h-3zM771 635h3v1h-3zM777 635h3v1h-3zM783 635h3v1h-3zM789 635h3v1h-3zM795 635h3v1h-3zM801 635h3v1h-3zM807 635h3v1h-3zM813 635h3v1h-3zM819 635h3v1h-3zM825 635h3v1h-3zM831 635h3v1h-3zM837 635h3v1h-3zM843 635h3v1h-3zM849 635h3v1h-3zM855 635h3v1h-3zM861 635h3v1h-3zM867 635h3v1h-3zM873 635h3v1h-3zM879 635h3v1h-3zM885 635h3v1h-3zM891 635h3v1h-3zM897 635h3v1h-3zM903 635h3v1h-3zM909 635h3v1h-3zM915 635h3v1h-3zM921 635h3v1h-3zM927 635h3v1h-3zM933 635h3v1h-3zM939 635h3v1h-3zM945 635h3v1h-3zM951 635h3v1h-3zM957 635h3v1h-3zM963 635h3v1h-3zM969 635h3v1h-3zM975 635h3v1h-3zM981 635h3v1h-3zM987 635h3v1h-3zM993 635h3v1h-3zM999 635h3v1h-3zM1005 635h3v1h-3zM1011 635h3v1h-3zM1017 635h3v1h-3zM1023 635h3v1h-3zM1029 635h3v1h-3zM1035 635h3v1h-3zM1041 635h3v1h-3zM1047 635h3v1h-3zM1053 635h3v1h-3zM1059 635h3v1h-3zM1065 635h3v1h-3zM1071 635h3v1h-3zM1077 635h3v1h-3zM1083 635h3v1h-3zM1089 635h3v1h-3zM1095 635h3v1h-3zM1101 635h3v1h-3zM1107 635h3v1h-3zM1113 635h3v1h-3zM1119 635h3v1h-3zM1125 635h3v1h-3zM1131 635h3v1h-3zM1137 635h3v1h-3zM1143 635h3v1h-3zM1149 635h3v1h-3zM1155 635h3v1h-3zM1161 635h3v1h-3zM1167 635h3v1h-3zM1173 635h3v1h-3zM1179 635h3v1h-3zM1185 635h3v1h-3zM1191 635h3v1h-3zM1197 635h3v1h-3zM1203 635h3v1h-3zM1209 635h3v1h-3zM1215 635h3v1h-3zM1221 635h3v1h-3zM1227 635h3v1h-3zM1233 635h3v1h-3zM1239 635h3v1h-3zM1245 635h3v1h-3zM1251 635h3v1h-3zM1257 635h3v1h-3zM1263 635h3v1h-3zM1269 635h3v1h-3zM1275 635h3v1h-3zM1281 635h3v1h-3zM1287 635h3v1h-3zM1293 635h3v1h-3zM1299 635h3v1h-3zM1305 635h3v1h-3zM1311 635h3v1h-3zM1317 635h3v1h-3zM1323 635h3v1h-3zM1329 635h3v1h-3zM1335 635h3v1h-3zM1341 635h3v1h-3zM1347 635h3v1h-3zM1353 635h3v1h-3zM1359 635h3v1h-3zM1365 635h3v1h-3zM1371 635h3v1h-3zM1377 635h3v1h-3zM1383 635h3v1h-3zM1389 635h3v1h-3zM1395 635h3v1h-3zM1401 635h3v1h-3zM1407 635h3v1h-3zM1413 635h3v1h-3zM1419 635h3v1h-3zM1425 635h3v1h-3zM1431 635h3v1h-3zM1437 635h3v1h-3zM1443 635h3v1h-3zM1449 635h3v1h-3zM1455 635h3v1h-3zM1461 635h3v1h-3zM1467 635h3v1h-3zM1473 635h3v1h-3zM1479 635h3v1h-3zM1485 635h3v1h-3zM1491 635h3v1h-3zM1497 635h3v1h-3zM1503 635h3v1h-3zM1509 635h3v1h-3zM1515 635h3v1h-3zM1521 635h3v1h-3zM1527 635h3v1h-3zM1533 635h3v1h-3zM1539 635h3v1h-3zM1545 635h3v1h-3zM1551 635h3v1h-3zM1557 635h3v1h-3zM1563 635h3v1h-3zM1569 635h3v1h-3zM1575 635h3v1h-3zM1581 635h3v1h-3zM1587 635h3v1h-3zM1593 635h3v1h-3zM1599 635h3v1h-3zM1605 635h3v1h-3zM1611 635h3v1h-3zM1617 635h3v1h-3zM1623 635h3v1h-3zM1629 635h3v1h-3zM1635 635h3v1h-3zM1641 635h3v1h-3zM1647 635h3v1h-3zM1653 635h3v1h-3zM1659 635h3v1h-3zM1665 635h3v1h-3z"/>
<path fill="#c0c0c0" d="M9 686h3v1h-3zM15 686h3v1h-3zM21 686h3v1h-3zM27 686h3v1h-3zM33 686h3v1h-3zM39 686h3v1h-3zM45 686h3v1h-3zM51 686h3v1h-3zM57 686h3v1h-3zM63 686h3v1h-3zM69 686h3v1h-3zM75 686h3v1h-3zM81 686h3v1h-3zM87 686h3v1h-3zM93 686h3v1h-3zM99 686h3v1h-3zM105 686h3v1h-3zM111 686h3v1h-3zM117 686h3v1h-3zM123 686h3v1h-3zM129 686h3v1h-3zM135 686h3v1h-3zM141 686h3v1h-3zM147 686h3v1h-3zM153 686h3v1h-3zM159 686h3v1h-3zM165 686h3v1h-3zM171 686h3v1h-3zM177 686h3v1h-3zM183 686h3v1h-3zM189 686h3v1h-3zM195 686h3v1h-3zM201 686h3v1h-3zM207 686h3v1h-3zM213 686h3v1h-3zM219 686h3v1h-3zM225 686h3v1h-3zM231 686h3v1h-3zM237 686h3v1h-3zM243 686h3v1h-3zM249 686h3v1h-3zM255 686h3v1h-3zM261 686h3v1h-3zM267 686h3v1h-3zM273 686h3v1h-3zM279 686h3v1h-3zM285 686h3v1h-3zM291 686h3v1h-3zM297 686h3v1h-3zM303 686h3v1h-3zM309 686h3v1h-3zM315 686h3v1h-3zM321 686h3v1h-3zM327 686h3v1h-3zM333 686h3v1h-3zM339 686h3v1h-3zM345 686h3v1h-3zM351 686h3v1h-3zM357 686h3v1h-3zM363 686h3v1h-3zM369 686h3v1h-3zM375 686h3v1h-3zM381 686h3v1h-3zM387 686h3v1h-3zM393 686h3v1h-3zM399 686h3v1h-3zM405 686h3v1h-3zM411 686h3v1h-3zM417 686h3v1h-3zM423 686h3v1h-3zM429 686h3v1h-3zM435 686h3v1h-3zM441 686h3v1h-3zM447 686h3v1h-3zM453 686h3v1h-3zM459 686h3v1h-3zM465 686h3v1h-3zM471 686h3v1h-3zM477 686h3v1h-3zM483 686h3v1h-3zM489 686h3v1h-3zM495 686h3v1h-3zM501 686h3v1h-3zM507 686h3v1h-3zM513 686h3v1h-3zM519 686h3v1h-3zM525 686h3v1h-3zM531 686h3v1h-3zM537 686h3v1h-3zM543 686h3v1h-3zM549 686h3v1h-3zM555 686h3v1h-3zM561 686h3v1h-3zM567 686h3v1h-3zM573 686h3v1h-3zM579 686h3v1h-3zM585 686h3v1h-3zM591 686h3v1h-3zM597 686h3v1h-3zM603 686h3v1h-3zM609 686h3v1h-3zM615 686h3v1h-3zM621 686h3v1h-3zM627 686h3v1h-3zM633 686h3v1h-3zM639 686h3v1h-3zM645 686h3v1h-3zM651 686h3v1h-3zM657 686h3v1h-3zM663 686h3v1h-3zM669 686h3v1h-3zM675 686h3v1h-3zM681 686h3v1h-3zM687 686h3v1h-3zM693 686h3v1h-3zM699 686h3v1h-3zM705 686h3v1h-3zM711 686h3v1h-3zM717 686h3v1h-3zM723 686h3v1h-3zM729 686h3v1h-3zM735 686h3v1h-3zM741 686h3v1h-3zM747 686h3v1h-3zM753 686h3v1h-3zM759 686h3v1h-3zM765 686h3v1h-3zM771 686h3v1h-3zM777 686h3v1h-3zM783 686h3v1h-3zM789 686h3v1h-3zM795 686h3v1h-3zM801 686h3v1h-3zM807 686h3v1h-3zM813 686h3v1h-3zM819 686h3v1h-3zM825 686h3v1h-3zM831 686h3v1h-3zM837 686h3v1h-3zM843 686h3v1h-3zM849 686h3v1h-3zM855 686h3v1h-3zM861 686h3v1h-3zM867 686h3v1h-3zM873 686h3v1h-3zM879 686h3v1h-3zM885 686h3v1h-3zM891 686h3v1h-3zM897 686h3v1h-3zM903 686h3v1h-3zM909 686h3v1h-3zM915 686h3v1h-3zM921 686h3v1h-3zM927 686h3v1h-3zM933 686h3v1h-3zM939 686h3v1h-3zM945 686h3v1h-3zM951 686h3v1h-3zM957 686h3v1h-3zM963 686h3v1h-3zM969 686h3v1h-3zM975 686h3v1h-3zM981 686h3v1h-3zM987 686h3v1h-3zM993 686h3v1h-3zM999 686h3v1h-3zM1005 686h3v1h-3zM1011 686h3v1h-3zM1017 686h3v1h-3zM1023 686h3v1h-3zM1029 686h3v1h-3zM1035 686h3v1h-3zM1041 686h3v1h-3zM1047 686h3v1h-3zM1053 686h3v1h-3zM1059 686h3v1h-3zM1065 686h3v1h-3zM1071 686h3v1h-3zM1077 686h3v1h-3zM1083 686h3v1h-3zM1089 686h3v1h-3zM1095 686h3v1h-3zM1101 686h3v1h-3zM1107 686h3v1h-3zM1113 686h3v1h-3zM1119 686h3v1h-3zM1125 686h3v1h-3zM1131 686h3v1h-3zM1137 686h3v1h-3zM1143 686h3v1h-3zM1149 686h3v1h-3zM1155 686h3v1h-3zM1161 686h3v1h-3zM1167 686h3v1h-3zM1173 686h3v1h-3zM1179 686h3v1h-3zM1185 686h3v1h-3zM1191 686h3v1h-3zM1197 686h3v1h-3zM1203 686h3v1h-3zM1209 686h3v1h-3zM1215 686h3v1h-3zM1221 686h3v1h-3zM1227 686h3v1h-3zM1233 686h3v1h-3zM1239 686h3v1h-3zM1245 686h3v1h-3zM1251 686h3v1h-3zM1257 686h3v1h-3zM1263 686h3v1h-3zM1269 686h3v1h-3zM1275 686h3v1h-3zM1281 686h3v1h-3zM1287 686h3v1h-3zM1293 686h3v1h-3zM1299 686h3v1h-3zM1305 686h3v1h-3zM1311 686h3v1h-3zM1317 686h3v1h-3zM1323 686h3v1h-3zM1329 686h3v1h-3zM1335 686h3v1h-3zM1341 686h3v1h-3zM1347 686h3v1h-3zM1353 686h3v1h-3zM1359 686h3v1h-3zM1365 686h3v1h-3zM1371 686h3v1h-3zM1377 686h3v1h-3zM1383 686h3v1h-3zM1389 686h3v1h-3zM1395 686h3v1h-3zM1401 686h3v1h-3zM1407 686h3v1h-3zM1413 686h3v1h-3zM1419 686h3v1h-3zM1425 686h3v1h-3zM1431 686h3v1h-3zM1437 686h3v1h-3zM1443 686h3v1h-3zM1449 686h3v1h-3zM1455 686h3v1h-3zM1461 686h3v1h-3zM1467 686h3v1h-3zM1473 686h3v1h-3zM1479 686h3v1h-3zM1485 686h3v1h-3zM1491 686h3v1h-3zM1497 686h3v1h-3zM1503 686h3v1h-3zM1509 686h3v1h-3zM1515 686h3v1h-3zM1521 686h3v1h-3zM1527 686h3v1h-3zM1533 686h3v1h-3zM1539 686h3v1h-3zM1545 686h3v1h-3zM1551 686h3v1h-3zM1557 686h3v1h-3zM1563 686h3v1h-3zM1569 686h3v1h-3zM1575 686h3v1h-3zM1581 686h3v1h-3zM1587 686h3v1h-3zM1593 686h3v1h-3zM1599 686h3v1h-3zM1605 686h3v1h-3zM1611 686h3v1h-3zM1617 686h3v1h-3zM1623 686h3v1h-3zM1629 686h3v1h-3zM1635 686h3v1h-3zM1641 686h3v1h-3zM1647 686h3v1h-3zM1653 686h3v1h-3zM1659 686h3v1h-3zM1665 686h3v1h-3z"/>
<rect x="7" y="40" width="1665" height="1" fill="#000"/>
<rect x="7" y="531" width="1665" height="1" fill="#000"/>
<rect x="7" y="40" width="1" height="492" fill="#000"/>
<rect x="1671" y="40" width="1" height="492" fill="#000"/>
<rect x="7" y="533" width="1665" height="1" fill="#000"/>
<rect x="7" y="594" width="1665" height="1" fill="#000"/>
<rect x="7" y="533" width="1" height="62" fill="#000"/>
<rect x="1671" y="533" width="1" height="62" fill="#000"/>
<rect x="7" y="596" width="1665" height="1" fill="#000"/>
<rect x="7" y="724" width="1665" height="1" fill="#000"/>
<rect x="7" y="596" width="1" height="129" fill="#000"/>
<rect x="1671" y="596" width="1" height="129" fill="#000"/>
<rect x="1672" y="71" width="2" height="1" fill="#000"/>
<rect x="1672" y="120" width="2" height="1" fill="#000"/>
<rect x="1672" y="169" width="2" height="1" fill="#000"/>
<rect x="1672" y="218" width="2" height="1" fill="#000"/>
<rect x="1672" y="267" width="2" height="1" fill="#000"/>
<rect x="1672" y="316" width="2" height="1" fill="#000"/>
<rect x="1672" y="365" width="2" height="1" fill="#000"/>
<rect x="1672" y="414" width="2" height="1" fill="#000"/>
<rect x="1672" y="463" width="2" height="1" fill="#000"/>
<rect x="1672" y="512" width="2" height="1" fill="#000"/>
<rect x="1672" y="535" width="2" height="1" fill="#000"/>
<rect x="1672" y="556" width="2" height="1" fill="#000"/>
<rect x="1672" y="593" width="2" height="1" fill="#000"/>
<rect x="1672" y="598" width="2" height="1" fill="#000"/>
<rect x="1672" y="635" width="2" height="1" fill="#000"/>
<rect x="1672" y="686" width="2" height="1" fill="#000"/>
<rect x="1672" y="723" width="2" height="1" fill="#000"/>
<rect x="8" y="725" width="1" height="3" fill="#000"/>
<rect x="104" y="725" width="1" height="3" fill="#000"/>
<rect x="200" y="725" width="1" height="3" fill="#000"/>
<rect x="296" y="725" width="1" height="3" fill="#000"/>
<rect x="392" y="725" width="1" height="3" fill="#000"/>
<rect x="488" y="725" width="1" height="3" fill="#000"/>
<rect x="584" y="725" width="1" height="3" fill="#000"/>
<rect x="680" y="725" width="1" height="3" fill="#000"/>
<rect x="776" y="725" width="1" height="3" fill="#000"/>
<rect x="872" y="725" width="1" height="3" fill="#000"/>
<rect x="968" y="725" width="1" height="3" fill="#000"/>
<rect x="1064" y="725" width="1" height="3" fill="#000"/>
<rect x="1160" y="725" width="1" height="3" fill="#000"/>
<rect x="1256" y="725" width="1" height="3" fill="#000"/>
<rect x="1348" y="41" width="11" height="1" fill="#c0c0c0"/>
<rect x="1349" y="42" width="9" height="1" fill="#c0c0c0"/>
<rect x="1350" y="43" width="7" height="1" fill="#c0c0c0"/>
<rect x="1351" y="44" width="5" height="1" fill="#c0c0c0"/>
<rect x="1352" y="45" width="3" height="1" fill="#c0c0c0"/>
<rect x="1353" y="46" width="1" height="1" fill="#c0c0c0"/>
<rect x="15" y="48" width="1" height="1" fill="#000"/>
<rect x="14" y="49" width="3" height="1" fill="#000"/>
<rect x="13" y="50" width="5" height="1" fill="#000"/>
<rect x="12" y="51" width="7" height="1" fill="#000"/>
<rect x="11" y="52" width="9" height="1" fill="#000"/>
</g>
<text x="1116" y="117" font-size="49" fill="#ff2010" textLength="363" lengthAdjust="spacing" style="font-family:'Liberation Sans','Noto Sans CJK SC',sans-serif">多空转折点3710</text>
</svg>
<div class="t" style="left:1677.84px;top:64px;letter-spacing:0.08px;color:#000;font-size:12.6px;">4004.0</div>
<div class="t" style="left:1677.84px;top:113px;letter-spacing:0.08px;color:#000;font-size:12.6px;">3952.0</div>
<div class="t" style="left:1677.84px;top:162px;letter-spacing:0.08px;color:#000;font-size:12.6px;">3899.0</div>
<div class="t" style="left:1677.84px;top:211px;letter-spacing:0.08px;color:#000;font-size:12.6px;">3846.0</div>
<div class="t" style="left:1677.84px;top:260px;letter-spacing:0.08px;color:#000;font-size:12.6px;">3794.0</div>
<div class="t" style="left:1677.84px;top:309px;letter-spacing:0.08px;color:#000;font-size:12.6px;">3741.0</div>
<div class="t" style="left:1677.84px;top:358px;letter-spacing:0.08px;color:#000;font-size:12.6px;">3689.0</div>
<div class="t" style="left:1677.84px;top:407px;letter-spacing:0.08px;color:#000;font-size:12.6px;">3636.0</div>
<div class="t" style="left:1677.84px;top:456px;letter-spacing:0.08px;color:#000;font-size:12.6px;">3583.0</div>
<div class="t" style="left:1677.84px;top:505px;letter-spacing:0.08px;color:#000;font-size:12.6px;">3531.0</div>
<div class="a" style="left:1673px;top:140px;width:50px;height:14px;background:#ff0000"></div>
<div class="t" style="left:1677.84px;top:140px;letter-spacing:0.08px;color:#fff;font-size:12.6px;">3924.0</div>
<div class="a" style="left:1673px;top:193px;width:50px;height:14px;background:#ff0000"></div>
<div class="t" style="left:1677.84px;top:193px;letter-spacing:0.08px;color:#fff;font-size:12.6px;">3866.5</div>
<div class="a" style="left:1673px;top:290px;width:50px;height:14px;background:#000"></div>
<div class="t" style="left:1677.84px;top:290px;letter-spacing:0.08px;color:#fff;font-size:12.6px;">3761.3</div>
<div class="a" style="left:1673px;top:339px;width:50px;height:14px;background:#00ff7f"></div>
<div class="t" style="left:1677.84px;top:339px;letter-spacing:0.08px;color:#fff;font-size:12.6px;">3710.0</div>
<div class="a" style="left:1673px;top:417px;width:50px;height:14px;background:#0000ff"></div>
<div class="t" style="left:1677.84px;top:417px;letter-spacing:0.08px;color:#fff;font-size:12.6px;">3626.0</div>
<div class="a" style="left:1673px;top:492px;width:50px;height:14px;background:#0000ff"></div>
<div class="t" style="left:1677.84px;top:492px;letter-spacing:0.08px;color:#fff;font-size:12.6px;">3546.0</div>
<div class="t" style="left:1674.85px;top:535px;letter-spacing:0.09px;color:#000;font-size:12.6px;">61.86</div>
<div class="t" style="left:1674.86px;top:549px;letter-spacing:0.12px;color:#000;font-size:12.6px;">0.00</div>
<div class="t" style="left:1674.82px;top:579px;letter-spacing:0.04px;color:#000;font-size:12.6px;">-105.92</div>
<div class="t" style="left:1674.80px;top:598px;letter-spacing:-0.01px;color:#000;font-size:12.6px;">100</div>
<div class="t" style="left:1674.80px;top:628px;letter-spacing:-0.01px;color:#000;font-size:12.6px;">70</div>
<div class="t" style="left:1674.80px;top:679px;letter-spacing:-0.01px;color:#000;font-size:12.6px;">30</div>
<div class="t" style="left:1674.80px;top:709px;letter-spacing:-0.01px;color:#000;font-size:12.6px;">0</div>
<div class="t" style="left:7.00px;top:728px;letter-spacing:-0.01px;color:#000;font-size:12.6px;">25</div>
<div class="t" style="left:24.73px;top:728px;letter-spacing:-0.54px;color:#000;font-size:12.6px;">Apr</div>
<div class="t" style="left:47.00px;top:728px;letter-spacing:-0.01px;color:#000;font-size:12.6px;">2019</div>
<div class="t" style="left:103.00px;top:728px;letter-spacing:-0.01px;color:#000;font-size:12.6px;">8</div>
<div class="t" style="left:113.53px;top:728px;letter-spacing:-0.93px;color:#000;font-size:12.6px;">May</div>
<div class="t" style="left:139.05px;top:728px;letter-spacing:0.09px;color:#000;font-size:12.6px;">05:00</div>
<div class="t" style="left:199.00px;top:728px;letter-spacing:-0.01px;color:#000;font-size:12.6px;">16</div>
<div class="t" style="left:216.53px;top:728px;letter-spacing:-0.93px;color:#000;font-size:12.6px;">May</div>
<div class="t" style="left:242.05px;top:728px;letter-spacing:0.09px;color:#000;font-size:12.6px;">05:00</div>
<div class="t" style="left:295.00px;top:728px;letter-spacing:-0.01px;color:#000;font-size:12.6px;">24</div>
<div class="t" style="left:312.53px;top:728px;letter-spacing:-0.93px;color:#000;font-size:12.6px;">May</div>
<div class="t" style="left:338.05px;top:728px;letter-spacing:0.09px;color:#000;font-size:12.6px;">05:00</div>
<div class="t" style="left:391.00px;top:728px;letter-spacing:-0.01px;color:#000;font-size:12.6px;">3</div>
<div class="t" style="left:401.78px;top:728px;letter-spacing:-0.44px;color:#000;font-size:12.6px;">Jun</div>
<div class="t" style="left:425.05px;top:728px;letter-spacing:0.09px;color:#000;font-size:12.6px;">05:00</div>
<div class="t" style="left:487.00px;top:728px;letter-spacing:-0.01px;color:#000;font-size:12.6px;">12</div>
<div class="t" style="left:504.78px;top:728px;letter-spacing:-0.44px;color:#000;font-size:12.6px;">Jun</div>
<div class="t" style="left:528.05px;top:728px;letter-spacing:0.09px;color:#000;font-size:12.6px;">05:00</div>
<div class="t" style="left:583.00px;top:728px;letter-spacing:-0.01px;color:#000;font-size:12.6px;">20</div>
<div class="t" style="left:600.78px;top:728px;letter-spacing:-0.44px;color:#000;font-size:12.6px;">Jun</div>
<div class="t" style="left:624.05px;top:728px;letter-spacing:0.09px;color:#000;font-size:12.6px;">05:00</div>
<div class="t" style="left:679.00px;top:728px;letter-spacing:-0.01px;color:#000;font-size:12.6px;">28</div>
<div class="t" style="left:696.78px;top:728px;letter-spacing:-0.44px;color:#000;font-size:12.6px;">Jun</div>
<div class="t" style="left:720.05px;top:728px;letter-spacing:0.09px;color:#000;font-size:12.6px;">05:00</div>
<div class="t" style="left:775.00px;top:728px;letter-spacing:-0.01px;color:#000;font-size:12.6px;">8</div>
<div class="t" style="left:785.82px;top:728px;letter-spacing:-0.37px;color:#000;font-size:12.6px;">Jul</div>
<div class="t" style="left:805.05px;top:728px;letter-spacing:0.09px;color:#000;font-size:12.6px;">05:00</div>
<div class="t" style="left:871.00px;top:728px;letter-spacing:-0.01px;color:#000;font-size:12.6px;">16</div>
<div class="t" style="left:888.82px;top:728px;letter-spacing:-0.37px;color:#000;font-size:12.6px;">Jul</div>
<div class="t" style="left:908.05px;top:728px;letter-spacing:0.09px;color:#000;font-size:12.6px;">05:00</div>
<div class="t" style="left:967.00px;top:728px;letter-spacing:-0.01px;color:#000;font-size:12.6px;">24</div>
<div class="t" style="left:984.82px;top:728px;letter-spacing:-0.37px;color:#000;font-size:12.6px;">Jul</div>
<div class="t" style="left:1004.05px;top:728px;letter-spacing:0.09px;color:#000;font-size:12.6px;">05:00</div>
<div class="t" style="left:1063.00px;top:728px;letter-spacing:-0.01px;color:#000;font-size:12.6px;">1</div>
<div class="t" style="left:1073.76px;top:728px;letter-spacing:-0.47px;color:#000;font-size:12.6px;">Aug</div>
<div class="t" style="left:1099.05px;top:728px;letter-spacing:0.09px;color:#000;font-size:12.6px;">05:00</div>
<div class="t" style="left:1159.00px;top:728px;letter-spacing:-0.01px;color:#000;font-size:12.6px;">9</div>
<div class="t" style="left:1169.76px;top:728px;letter-spacing:-0.47px;color:#000;font-size:12.6px;">Aug</div>
<div class="t" style="left:1195.05px;top:728px;letter-spacing:0.09px;color:#000;font-size:12.6px;">05:00</div>
<div class="t" style="left:1255.00px;top:728px;letter-spacing:-0.01px;color:#000;font-size:12.6px;">19</div>
<div class="t" style="left:1272.76px;top:728px;letter-spacing:-0.47px;color:#000;font-size:12.6px;">Aug</div>
<div class="t" style="left:1298.05px;top:728px;letter-spacing:0.09px;color:#000;font-size:12.6px;">05:00</div>
<div class="t" style="left:25.99px;top:43px;letter-spacing:-0.42px;color:#000;font-size:12.6px;">CHINA300-,H4</div>
<div class="t" style="left:113.24px;top:43px;letter-spacing:0.08px;color:#000;font-size:12.6px;">3764.4</div>
<div class="t" style="left:156.24px;top:43px;letter-spacing:0.08px;color:#000;font-size:12.6px;">3765.8</div>
<div class="t" style="left:199.24px;top:43px;letter-spacing:0.08px;color:#000;font-size:12.6px;">3745.3</div>
<div class="t" style="left:242.24px;top:43px;letter-spacing:0.08px;color:#000;font-size:12.6px;">3761.3</div>
<div class="t" style="left:11.86px;top:537px;letter-spacing:-0.27px;color:#000;font-size:12.6px;">MACD(12,26,9)</div>
<div class="t" style="left:100.05px;top:537px;letter-spacing:0.09px;color:#000;font-size:12.6px;">20.54</div>
<div class="t" style="left:136.05px;top:537px;letter-spacing:0.09px;color:#000;font-size:12.6px;">17.71</div>
<div class="t" style="left:11.97px;top:600px;letter-spacing:-0.06px;color:#000;font-size:12.6px;">RSI(14)</div>
<div class="t" style="left:59.03px;top:600px;letter-spacing:0.06px;color:#000;font-size:12.6px;">54.0832</div>
<div class="a" style="left:9px;top:61px;width:287px;height:80px;background:#fff"></div>
<div class="a" style="left:11px;top:90px;width:141px;height:49px;box-sizing:border-box;border:1px solid #b00000;border-bottom-color:#a80000;background:linear-gradient(#de3030,#d42424 40%,#b80808 85%,#ae0000)"></div>
<div class="a" style="left:154px;top:90px;width:140px;height:49px;box-sizing:border-box;border:1px solid #b00000;border-bottom-color:#a80000;background:linear-gradient(#de3030,#d42424 40%,#b80808 85%,#ae0000)"></div>
<div class="a" style="left:11px;top:63px;width:68px;height:28px;box-sizing:border-box;border:1px solid #b00000;border-bottom:none;background:linear-gradient(#fb5050,#e03232)"></div>
<div class="a" style="left:12px;top:64px;width:66px;height:1px;background:#ff6a6a"></div>
<div class="a" style="left:226px;top:63px;width:68px;height:28px;box-sizing:border-box;border:1px solid #b00000;border-bottom:none;background:linear-gradient(#fb5050,#e03232)"></div>
<div class="a" style="left:227px;top:64px;width:66px;height:1px;background:#ff6a6a"></div>
<div class="a" style="left:15px;top:89px;width:60px;height:1px;background:#a00000"></div>
<div class="a" style="left:15px;top:90px;width:60px;height:1px;background:#f07878"></div>
<div class="a" style="left:230px;top:89px;width:60px;height:1px;background:#a00000"></div>
<div class="a" style="left:230px;top:90px;width:60px;height:1px;background:#f07878"></div>
<div class="a" style="left:28px;top:69px;font-size:14.5px;line-height:17px;letter-spacing:-0.3px;color:#fff;white-space:pre">SELL</div>
<div class="a" style="left:245px;top:69px;font-size:14.5px;line-height:17px;color:#fff;white-space:pre">BUY</div>
<div class="a" style="left:81px;top:63px;width:143px;height:25px;box-sizing:border-box;border:1px solid #a4a8b4;background:#fff"></div>
<div class="a" style="left:83px;top:65px;width:21px;height:21px;background:linear-gradient(#f4f4f4,#e8e8e8 27%,#d8d8d8 29%,#d0d0d0)"></div>
<div class="a" style="left:201px;top:65px;width:21px;height:21px;background:linear-gradient(#f4f4f4,#e8e8e8 27%,#d8d8d8 29%,#d0d0d0)"></div>
<div class="a" style="left:105px;top:64px;width:1px;height:23px;background:#a4a8b4"></div>
<div class="a" style="left:199px;top:64px;width:1px;height:23px;background:#a4a8b4"></div>
<div class="a" style="left:140px;top:66px;width:56px;text-align:right;font-size:16px;line-height:19px;color:#000;white-space:pre">1.00</div>
<svg width="300" height="145" viewBox="0 0 300 145" style="left:0;top:0">
<g shape-rendering="crispEdges">
<rect x="90" y="74" width="7" height="1" fill="#5a70d0"/>
<rect x="211" y="73" width="1" height="1" fill="#404888"/>
<rect x="91" y="75" width="5" height="1" fill="#5064c0"/>
<rect x="210" y="74" width="3" height="1" fill="#4858a8"/>
<rect x="92" y="76" width="3" height="1" fill="#4858a8"/>
<rect x="209" y="75" width="5" height="1" fill="#5064c0"/>
<rect x="93" y="77" width="1" height="1" fill="#404888"/>
<rect x="208" y="76" width="7" height="1" fill="#5a70d0"/>
</g>
<text x="101.1" y="128.2" font-size="41" fill="#fff" text-anchor="middle" style="font-family:'Liberation Sans',sans-serif">8</text>
<text x="243.3" y="128.2" font-size="41" fill="#fff" text-anchor="middle" style="font-family:'Liberation Sans',sans-serif">4</text>
<circle cx="85.4" cy="125.5" r="2.7" fill="#fff"/>
<circle cx="228.3" cy="125.5" r="2.7" fill="#fff"/>
</svg>
<div class="a" style="left:41px;top:114px;font-size:15.2px;line-height:18px;font-weight:bold;letter-spacing:0.7px;color:#fff;white-space:pre">3759</div>
<div class="a" style="left:183px;top:114px;font-size:15.2px;line-height:18px;font-weight:bold;letter-spacing:0.7px;color:#fff;white-space:pre">3765</div>
</body></html>
